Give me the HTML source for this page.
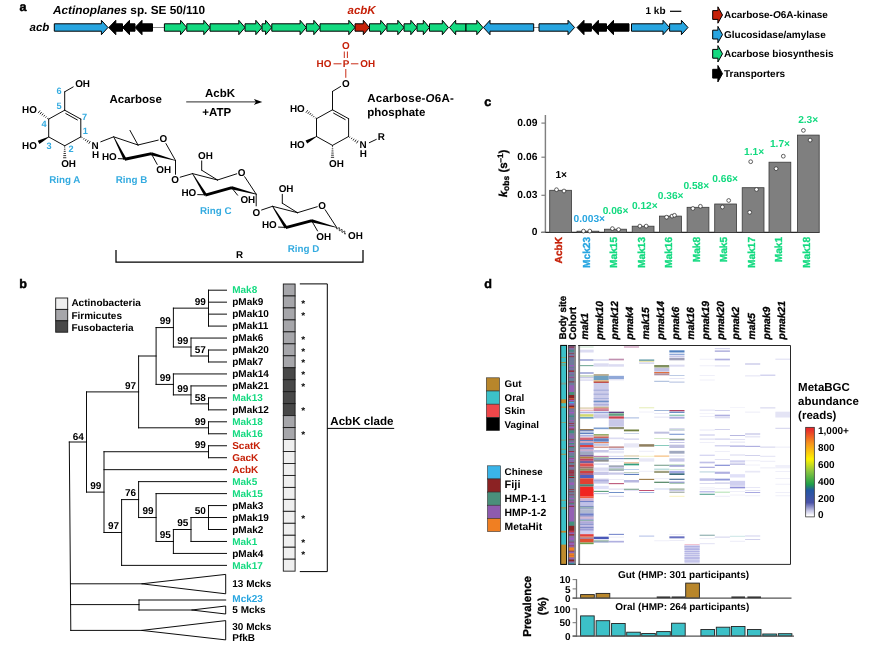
<!DOCTYPE html>
<html lang="en"><head><meta charset="utf-8"><title>AcbK figure</title>
<style>html,body{margin:0;padding:0;background:#fff}svg{display:block}text{font-family:"Liberation Sans",sans-serif;font-weight:bold;text-rendering:geometricPrecision}</style></head>
<body>
<svg width="870" height="648" viewBox="0 0 870 648">
<rect width="870" height="648" fill="#fff"/>
<g id="panel-a">
<text x="19.5" y="10.5" font-size="12.6" stroke="#000" stroke-width="0.45">a</text>
<text x="53" y="13.8" font-size="11.8"><tspan font-style="italic">Actinoplanes</tspan> sp. SE 50/110</text>
<text x="29.5" y="30.5" font-size="11.5" font-style="italic">acb</text>
<text x="347.5" y="13.8" font-size="11.5" fill="#C62109" font-style="italic">acbK</text>
<line x1="152.00" y1="27.50" x2="164.00" y2="27.50" stroke="#666" stroke-width="0.8"/>
<line x1="533.00" y1="27.50" x2="539.00" y2="27.50" stroke="#666" stroke-width="0.8"/>
<polygon points="54.30,23.80 101.40,23.80 101.40,20.30 108.00,27.50 101.40,34.70 101.40,31.20 54.30,31.20" fill="#27A5E0" stroke="#000" stroke-width="1.0" stroke-linejoin="miter"/>
<polygon points="122.50,23.80 115.80,23.80 115.80,20.30 108.80,27.50 115.80,34.70 115.80,31.20 122.50,31.20" fill="#000" stroke="#000" stroke-width="1.0" stroke-linejoin="miter"/>
<polygon points="135.00,23.80 129.50,23.80 129.50,20.30 122.50,27.50 129.50,34.70 129.50,31.20 135.00,31.20" fill="#000" stroke="#000" stroke-width="1.0" stroke-linejoin="miter"/>
<polygon points="152.50,23.80 142.00,23.80 142.00,20.30 135.00,27.50 142.00,34.70 142.00,31.20 152.50,31.20" fill="#000" stroke="#000" stroke-width="1.0" stroke-linejoin="miter"/>
<polygon points="164.40,23.80 180.60,23.80 180.60,20.30 186.80,27.50 180.60,34.70 180.60,31.20 164.40,31.20" fill="#14DA80" stroke="#000" stroke-width="1.0" stroke-linejoin="miter"/>
<polygon points="186.80,23.80 203.80,23.80 203.80,20.30 210.00,27.50 203.80,34.70 203.80,31.20 186.80,31.20" fill="#14DA80" stroke="#000" stroke-width="1.0" stroke-linejoin="miter"/>
<polygon points="210.00,23.80 238.80,23.80 238.80,20.30 245.00,27.50 238.80,34.70 238.80,31.20 210.00,31.20" fill="#14DA80" stroke="#000" stroke-width="1.0" stroke-linejoin="miter"/>
<polygon points="245.00,23.80 255.80,23.80 255.80,20.30 262.00,27.50 255.80,34.70 255.80,31.20 245.00,31.20" fill="#14DA80" stroke="#000" stroke-width="1.0" stroke-linejoin="miter"/>
<polygon points="262.00,23.80 265.60,23.80 265.60,20.30 271.80,27.50 265.60,34.70 265.60,31.20 262.00,31.20" fill="#14DA80" stroke="#000" stroke-width="1.0" stroke-linejoin="miter"/>
<polygon points="271.80,23.80 300.10,23.80 300.10,20.30 306.30,27.50 300.10,34.70 300.10,31.20 271.80,31.20" fill="#14DA80" stroke="#000" stroke-width="1.0" stroke-linejoin="miter"/>
<polygon points="306.30,23.80 313.80,23.80 313.80,20.30 320.00,27.50 313.80,34.70 313.80,31.20 306.30,31.20" fill="#14DA80" stroke="#000" stroke-width="1.0" stroke-linejoin="miter"/>
<polygon points="320.00,23.80 348.80,23.80 348.80,20.30 355.00,27.50 348.80,34.70 348.80,31.20 320.00,31.20" fill="#14DA80" stroke="#000" stroke-width="1.0" stroke-linejoin="miter"/>
<polygon points="355.00,23.80 363.30,23.80 363.30,20.30 369.50,27.50 363.30,34.70 363.30,31.20 355.00,31.20" fill="#C62109" stroke="#000" stroke-width="1.0" stroke-linejoin="miter"/>
<polygon points="369.50,23.80 380.70,23.80 380.70,20.30 386.90,27.50 380.70,34.70 380.70,31.20 369.50,31.20" fill="#14DA80" stroke="#000" stroke-width="1.0" stroke-linejoin="miter"/>
<polygon points="386.90,23.80 397.80,23.80 397.80,20.30 404.00,27.50 397.80,34.70 397.80,31.20 386.90,31.20" fill="#14DA80" stroke="#000" stroke-width="1.0" stroke-linejoin="miter"/>
<polygon points="404.00,23.80 410.80,23.80 410.80,20.30 417.00,27.50 410.80,34.70 410.80,31.20 404.00,31.20" fill="#14DA80" stroke="#000" stroke-width="1.0" stroke-linejoin="miter"/>
<polygon points="417.00,23.80 423.30,23.80 423.30,20.30 429.50,27.50 423.30,34.70 423.30,31.20 417.00,31.20" fill="#14DA80" stroke="#000" stroke-width="1.0" stroke-linejoin="miter"/>
<polygon points="429.50,23.80 442.30,23.80 442.30,20.30 448.50,27.50 442.30,34.70 442.30,31.20 429.50,31.20" fill="#14DA80" stroke="#000" stroke-width="1.0" stroke-linejoin="miter"/>
<polygon points="466.00,23.80 455.70,23.80 455.70,20.30 449.50,27.50 455.70,34.70 455.70,31.20 466.00,31.20" fill="#14DA80" stroke="#000" stroke-width="1.0" stroke-linejoin="miter"/>
<polygon points="466.00,23.80 476.80,23.80 476.80,20.30 483.00,27.50 476.80,34.70 476.80,31.20 466.00,31.20" fill="#14DA80" stroke="#000" stroke-width="1.0" stroke-linejoin="miter"/>
<polygon points="533.70,23.80 490.00,23.80 490.00,20.30 483.40,27.50 490.00,34.70 490.00,31.20 533.70,31.20" fill="#27A5E0" stroke="#000" stroke-width="1.0" stroke-linejoin="miter"/>
<polygon points="539.00,23.80 568.00,23.80 568.00,20.30 574.60,27.50 568.00,34.70 568.00,31.20 539.00,31.20" fill="#27A5E0" stroke="#000" stroke-width="1.0" stroke-linejoin="miter"/>
<polygon points="591.40,23.80 584.00,23.80 584.00,20.30 577.00,27.50 584.00,34.70 584.00,31.20 591.40,31.20" fill="#000" stroke="#000" stroke-width="1.0" stroke-linejoin="miter"/>
<polygon points="606.50,23.80 598.40,23.80 598.40,20.30 591.40,27.50 598.40,34.70 598.40,31.20 606.50,31.20" fill="#000" stroke="#000" stroke-width="1.0" stroke-linejoin="miter"/>
<polygon points="629.00,23.80 613.50,23.80 613.50,20.30 606.50,27.50 613.50,34.70 613.50,31.20 629.00,31.20" fill="#000" stroke="#000" stroke-width="1.0" stroke-linejoin="miter"/>
<polygon points="631.50,23.80 663.00,23.80 663.00,20.30 669.60,27.50 663.00,34.70 663.00,31.20 631.50,31.20" fill="#27A5E0" stroke="#000" stroke-width="1.0" stroke-linejoin="miter"/>
<polygon points="669.60,23.80 681.40,23.80 681.40,20.30 688.00,27.50 681.40,34.70 681.40,31.20 669.60,31.20" fill="#27A5E0" stroke="#000" stroke-width="1.0" stroke-linejoin="miter"/>
<text x="645.5" y="13.8" font-size="10">1 kb</text>
<line x1="670.00" y1="11.30" x2="681.30" y2="11.30" stroke="#000" stroke-width="1.2"/>
<polygon points="712.70,10.60 717.90,10.60 717.90,6.80 722.50,15.00 717.90,23.20 717.90,19.40 712.70,19.40" fill="#C62109" stroke="#000" stroke-width="1.0" stroke-linejoin="miter"/>
<text x="724" y="18.3" font-size="10">Acarbose-<tspan font-style="italic">O</tspan>6A-kinase</text>
<polygon points="712.70,30.20 717.90,30.20 717.90,26.40 722.50,34.60 717.90,42.80 717.90,39.00 712.70,39.00" fill="#27A5E0" stroke="#000" stroke-width="1.0" stroke-linejoin="miter"/>
<text x="724" y="37.9" font-size="10">Glucosidase/amylase</text>
<polygon points="712.70,49.40 717.90,49.40 717.90,45.60 722.50,53.80 717.90,62.00 717.90,58.20 712.70,58.20" fill="#14DA80" stroke="#000" stroke-width="1.0" stroke-linejoin="miter"/>
<text x="724" y="57.1" font-size="10">Acarbose biosynthesis</text>
<polygon points="712.70,69.30 717.90,69.30 717.90,65.50 722.50,73.70 717.90,81.90 717.90,78.10 712.70,78.10" fill="#000" stroke="#000" stroke-width="1.0" stroke-linejoin="miter"/>
<text x="724" y="77.0" font-size="10">Transporters</text>
<line x1="64.70" y1="110.20" x2="80.80" y2="119.10" stroke="#000" stroke-width="0.95" stroke-linecap="round"/>
<line x1="80.80" y1="119.10" x2="80.80" y2="136.90" stroke="#000" stroke-width="0.95" stroke-linecap="round"/>
<line x1="80.80" y1="136.90" x2="64.70" y2="145.80" stroke="#000" stroke-width="0.95" stroke-linecap="round"/>
<line x1="64.70" y1="145.80" x2="48.70" y2="136.90" stroke="#000" stroke-width="0.95" stroke-linecap="round"/>
<line x1="48.70" y1="136.90" x2="48.70" y2="119.10" stroke="#000" stroke-width="0.95" stroke-linecap="round"/>
<line x1="48.70" y1="119.10" x2="64.70" y2="110.20" stroke="#000" stroke-width="0.95" stroke-linecap="round"/>
<line x1="65.79" y1="113.55" x2="77.38" y2="119.95" stroke="#000" stroke-width="0.95" stroke-linecap="round"/>
<line x1="47.99" y1="117.89" x2="47.35" y2="118.75" stroke="#000" stroke-width="0.8"/>
<line x1="46.41" y1="116.41" x2="45.49" y2="117.63" stroke="#000" stroke-width="0.8"/>
<line x1="44.83" y1="114.93" x2="43.64" y2="116.51" stroke="#000" stroke-width="0.8"/>
<line x1="43.25" y1="113.46" x2="41.79" y2="115.38" stroke="#000" stroke-width="0.8"/>
<line x1="41.67" y1="111.98" x2="39.94" y2="114.26" stroke="#000" stroke-width="0.8"/>
<line x1="40.09" y1="110.50" x2="38.08" y2="113.14" stroke="#000" stroke-width="0.8"/>
<text x="36.9" y="112.7" font-size="9.9" text-anchor="end">HO</text>
<polygon points="48.56,136.64 37.74,140.82 39.46,143.98 48.84,137.16" fill="#000"/>
<text x="36.9" y="148.7" font-size="9.9" text-anchor="end">HO</text>
<line x1="64.17" y1="147.08" x2="65.23" y2="147.08" stroke="#000" stroke-width="0.8"/>
<line x1="63.95" y1="149.21" x2="65.45" y2="149.21" stroke="#000" stroke-width="0.8"/>
<line x1="63.74" y1="151.35" x2="65.66" y2="151.35" stroke="#000" stroke-width="0.8"/>
<line x1="63.52" y1="153.48" x2="65.88" y2="153.48" stroke="#000" stroke-width="0.8"/>
<line x1="63.30" y1="155.61" x2="66.10" y2="155.61" stroke="#000" stroke-width="0.8"/>
<line x1="63.09" y1="157.75" x2="66.31" y2="157.75" stroke="#000" stroke-width="0.8"/>
<text x="61.2" y="167.2" font-size="9.9">OH</text>
<line x1="81.64" y1="138.09" x2="82.24" y2="137.15" stroke="#000" stroke-width="0.8"/>
<line x1="83.40" y1="139.51" x2="84.28" y2="138.13" stroke="#000" stroke-width="0.8"/>
<line x1="85.17" y1="140.93" x2="86.31" y2="139.11" stroke="#000" stroke-width="0.8"/>
<line x1="86.93" y1="142.35" x2="88.35" y2="140.09" stroke="#000" stroke-width="0.8"/>
<line x1="88.69" y1="143.77" x2="90.39" y2="141.07" stroke="#000" stroke-width="0.8"/>
<text x="91.6" y="148.6" font-size="9.9">N</text>
<text x="92" y="157.6" font-size="9.9">H</text>
<line x1="64.70" y1="110.20" x2="64.70" y2="91.80" stroke="#000" stroke-width="0.95" stroke-linecap="round"/>
<line x1="64.70" y1="91.80" x2="73.20" y2="86.90" stroke="#000" stroke-width="0.95" stroke-linecap="round"/>
<text x="75.2" y="86.9" font-size="9.9">OH</text>
<text x="56.6" y="94.3" font-size="9.2" fill="#34ABE0">6</text>
<text x="56.6" y="108.5" font-size="9.2" fill="#34ABE0">5</text>
<text x="41.6" y="127.3" font-size="9.2" fill="#34ABE0">4</text>
<text x="46.6" y="148.5" font-size="9.2" fill="#34ABE0">3</text>
<text x="68.6" y="151.8" font-size="9.2" fill="#34ABE0">2</text>
<text x="82.8" y="134.3" font-size="9.2" fill="#34ABE0">1</text>
<text x="82" y="119.8" font-size="9.2" fill="#34ABE0">7</text>
<text x="49.2" y="182.8" font-size="9.8" fill="#34ABE0">Ring A</text>
<text x="115.8" y="182.8" font-size="9.8" fill="#34ABE0">Ring B</text>
<text x="200" y="214.3" font-size="9.8" fill="#34ABE0">Ring C</text>
<text x="287.8" y="251.8" font-size="9.8" fill="#34ABE0">Ring D</text>
<text x="109.5" y="102.7" font-size="11.5">Acarbose</text>
<line x1="100.80" y1="141.80" x2="113.70" y2="136.80" stroke="#000" stroke-width="0.95" stroke-linecap="round"/>
<line x1="113.70" y1="136.80" x2="138.00" y2="145.00" stroke="#000" stroke-width="0.95" stroke-linecap="round"/>
<line x1="138.00" y1="145.00" x2="158.24" y2="140.12" stroke="#000" stroke-width="0.95" stroke-linecap="round"/>
<line x1="165.96" y1="143.60" x2="175.50" y2="160.50" stroke="#000" stroke-width="0.95" stroke-linecap="round"/>
<polygon points="113.39,136.96 123.66,159.88 126.34,158.52 114.01,136.64" fill="#000"/>
<line x1="124.71" y1="159.26" x2="151.59" y2="153.64" stroke="#000" stroke-width="2.9"/>
<polygon points="175.59,160.16 151.71,152.26 150.89,155.14 175.41,160.84" fill="#000"/>
<text x="163.3" y="142.3" font-size="9.9" text-anchor="middle">O</text>
<line x1="138.00" y1="145.00" x2="130.00" y2="130.40" stroke="#000" stroke-width="0.95" stroke-linecap="round"/>
<line x1="118.30" y1="158.60" x2="124.50" y2="158.90" stroke="#000" stroke-width="0.95" stroke-linecap="round"/>
<text x="116.8" y="159.8" font-size="9.9" text-anchor="end">HO</text>
<line x1="151.30" y1="153.70" x2="157.20" y2="164.40" stroke="#000" stroke-width="0.95" stroke-linecap="round"/>
<text x="156.3" y="172.5" font-size="9.9">OH</text>
<line x1="175.50" y1="160.50" x2="175.50" y2="174.30" stroke="#000" stroke-width="0.95" stroke-linecap="round"/>
<text x="175.1" y="182.9" font-size="9.9" text-anchor="middle">O</text>
<line x1="180.20" y1="177.20" x2="192.50" y2="173.60" stroke="#000" stroke-width="0.95" stroke-linecap="round"/>
<line x1="192.50" y1="173.60" x2="217.50" y2="180.00" stroke="#000" stroke-width="0.95" stroke-linecap="round"/>
<line x1="217.50" y1="180.00" x2="236.75" y2="173.80" stroke="#000" stroke-width="0.95" stroke-linecap="round"/>
<line x1="244.67" y1="176.71" x2="256.20" y2="194.20" stroke="#000" stroke-width="0.95" stroke-linecap="round"/>
<polygon points="192.20,173.78 204.32,195.78 206.88,194.22 192.80,173.42" fill="#000"/>
<line x1="205.31" y1="195.08" x2="231.99" y2="187.72" stroke="#000" stroke-width="2.9"/>
<polygon points="256.29,193.86 232.08,186.35 231.32,189.25 256.11,194.54" fill="#000"/>
<text x="241.7" y="175.6" font-size="9.9" text-anchor="middle">O</text>
<line x1="217.50" y1="180.00" x2="201.70" y2="170.20" stroke="#000" stroke-width="0.95" stroke-linecap="round"/>
<line x1="201.70" y1="170.20" x2="201.70" y2="160.90" stroke="#000" stroke-width="0.95" stroke-linecap="round"/>
<text x="198.1" y="158.9" font-size="9.9">OH</text>
<line x1="197.70" y1="194.60" x2="205.10" y2="194.80" stroke="#000" stroke-width="0.95" stroke-linecap="round"/>
<text x="196.3" y="195.6" font-size="9.9" text-anchor="end">HO</text>
<line x1="231.70" y1="187.80" x2="237.60" y2="195.20" stroke="#000" stroke-width="0.95" stroke-linecap="round"/>
<text x="240.4" y="203" font-size="9.9">OH</text>
<line x1="256.20" y1="194.20" x2="256.20" y2="205.90" stroke="#000" stroke-width="0.95" stroke-linecap="round"/>
<text x="256.3" y="215.8" font-size="9.9" text-anchor="middle">O</text>
<line x1="261.60" y1="210.00" x2="272.50" y2="206.30" stroke="#000" stroke-width="0.95" stroke-linecap="round"/>
<line x1="272.50" y1="206.30" x2="297.50" y2="212.70" stroke="#000" stroke-width="0.95" stroke-linecap="round"/>
<line x1="297.50" y1="212.70" x2="317.22" y2="206.71" stroke="#000" stroke-width="0.95" stroke-linecap="round"/>
<line x1="325.14" y1="209.73" x2="336.70" y2="227.50" stroke="#000" stroke-width="0.95" stroke-linecap="round"/>
<polygon points="272.20,206.49 284.73,228.40 287.27,226.80 272.80,206.11" fill="#000"/>
<line x1="285.71" y1="227.68" x2="311.99" y2="220.72" stroke="#000" stroke-width="2.9"/>
<polygon points="336.79,227.16 312.09,219.35 311.31,222.25 336.61,227.84" fill="#000"/>
<text x="322.2" y="208.6" font-size="9.9" text-anchor="middle">O</text>
<line x1="297.50" y1="212.70" x2="282.30" y2="203.20" stroke="#000" stroke-width="0.95" stroke-linecap="round"/>
<line x1="282.30" y1="203.20" x2="282.30" y2="194.30" stroke="#000" stroke-width="0.95" stroke-linecap="round"/>
<text x="278.7" y="191.8" font-size="9.9">OH</text>
<line x1="278.50" y1="227.10" x2="285.50" y2="227.40" stroke="#000" stroke-width="0.95" stroke-linecap="round"/>
<text x="276.8" y="228.4" font-size="9.9" text-anchor="end">HO</text>
<line x1="311.70" y1="220.80" x2="317.50" y2="230.90" stroke="#000" stroke-width="0.95" stroke-linecap="round"/>
<text x="316.3" y="239.5" font-size="9.9">OH</text>
<polyline points="336.70,227.50 336.56,228.46 336.69,228.98 337.22,228.88 338.03,228.34 338.83,227.81 339.36,227.71 339.50,228.23 339.36,229.19 339.22,230.14 339.35,230.66 339.88,230.56 340.69,230.03 341.49,229.49 342.02,229.39 342.16,229.91 342.01,230.87 341.87,231.83 342.01,232.35 342.54,232.25 343.34,231.71 344.15,231.18 344.68,231.08 344.81,231.60 344.67,232.56 344.53,233.51 344.67,234.03 345.19,233.94 346.00,233.40" fill="none" stroke="#000" stroke-width="0.8"/>
<text x="348" y="239.3" font-size="9.9">OH</text>
<polyline points="116.00,250.00 116.00,262.00 363.00,262.00 363.00,250.00" fill="none" stroke="#000" stroke-width="1.25"/>
<text x="236" y="258.3" font-size="9.8">R</text>
<line x1="186.20" y1="101.90" x2="256.00" y2="101.90" stroke="#555" stroke-width="1.1"/>
<polygon points="262.30,101.90 253.90,98.90 255.90,101.90 253.90,104.90" fill="#000"/>
<text x="220" y="97.1" font-size="11.5" text-anchor="middle">AcbK</text>
<text x="216.8" y="115.5" font-size="11.5" text-anchor="middle">+ATP</text>
<line x1="332.50" y1="109.80" x2="348.60" y2="118.70" stroke="#000" stroke-width="0.95" stroke-linecap="round"/>
<line x1="348.60" y1="118.70" x2="348.60" y2="136.50" stroke="#000" stroke-width="0.95" stroke-linecap="round"/>
<line x1="348.60" y1="136.50" x2="332.50" y2="145.40" stroke="#000" stroke-width="0.95" stroke-linecap="round"/>
<line x1="332.50" y1="145.40" x2="316.50" y2="136.50" stroke="#000" stroke-width="0.95" stroke-linecap="round"/>
<line x1="316.50" y1="136.50" x2="316.50" y2="118.70" stroke="#000" stroke-width="0.95" stroke-linecap="round"/>
<line x1="316.50" y1="118.70" x2="332.50" y2="109.80" stroke="#000" stroke-width="0.95" stroke-linecap="round"/>
<line x1="333.59" y1="113.15" x2="345.18" y2="119.55" stroke="#000" stroke-width="0.95" stroke-linecap="round"/>
<line x1="315.79" y1="117.49" x2="315.15" y2="118.35" stroke="#000" stroke-width="0.8"/>
<line x1="314.21" y1="116.01" x2="313.29" y2="117.23" stroke="#000" stroke-width="0.8"/>
<line x1="312.63" y1="114.53" x2="311.44" y2="116.11" stroke="#000" stroke-width="0.8"/>
<line x1="311.05" y1="113.06" x2="309.59" y2="114.98" stroke="#000" stroke-width="0.8"/>
<line x1="309.47" y1="111.58" x2="307.74" y2="113.86" stroke="#000" stroke-width="0.8"/>
<line x1="307.89" y1="110.10" x2="305.88" y2="112.74" stroke="#000" stroke-width="0.8"/>
<text x="304.7" y="112.3" font-size="9.9" text-anchor="end">HO</text>
<polygon points="316.36,136.24 305.54,140.42 307.26,143.58 316.64,136.76" fill="#000"/>
<text x="304.7" y="148.3" font-size="9.9" text-anchor="end">HO</text>
<line x1="331.97" y1="146.68" x2="333.03" y2="146.68" stroke="#000" stroke-width="0.8"/>
<line x1="331.75" y1="148.81" x2="333.25" y2="148.81" stroke="#000" stroke-width="0.8"/>
<line x1="331.54" y1="150.95" x2="333.46" y2="150.95" stroke="#000" stroke-width="0.8"/>
<line x1="331.32" y1="153.08" x2="333.68" y2="153.08" stroke="#000" stroke-width="0.8"/>
<line x1="331.10" y1="155.21" x2="333.90" y2="155.21" stroke="#000" stroke-width="0.8"/>
<line x1="330.89" y1="157.35" x2="334.11" y2="157.35" stroke="#000" stroke-width="0.8"/>
<text x="329.0" y="166.8" font-size="9.9">OH</text>
<line x1="349.44" y1="137.69" x2="350.04" y2="136.75" stroke="#000" stroke-width="0.8"/>
<line x1="351.20" y1="139.11" x2="352.08" y2="137.73" stroke="#000" stroke-width="0.8"/>
<line x1="352.97" y1="140.53" x2="354.11" y2="138.71" stroke="#000" stroke-width="0.8"/>
<line x1="354.73" y1="141.95" x2="356.15" y2="139.69" stroke="#000" stroke-width="0.8"/>
<line x1="356.49" y1="143.37" x2="358.19" y2="140.67" stroke="#000" stroke-width="0.8"/>
<text x="359.4" y="148.2" font-size="9.9">N</text>
<text x="359.8" y="157.2" font-size="9.9">H</text>
<line x1="332.50" y1="109.80" x2="332.50" y2="91.40" stroke="#000" stroke-width="0.95" stroke-linecap="round"/>
<line x1="332.50" y1="91.40" x2="340.60" y2="86.50" stroke="#000" stroke-width="0.95" stroke-linecap="round"/>
<text x="345.8" y="86.9" font-size="9.9" text-anchor="middle">O</text>
<line x1="345.80" y1="77.40" x2="345.80" y2="69.40" stroke="#C62109" stroke-width="0.95" stroke-linecap="round"/>
<text x="346.1" y="67.1" font-size="9.9" fill="#C62109" text-anchor="middle">P</text>
<text x="331.4" y="67.1" font-size="9.9" fill="#C62109" text-anchor="end">HO</text>
<text x="360.3" y="67.1" font-size="9.9" fill="#C62109">OH</text>
<line x1="333.90" y1="63.80" x2="341.10" y2="63.80" stroke="#C62109" stroke-width="0.95" stroke-linecap="round"/>
<line x1="351.30" y1="63.80" x2="358.00" y2="63.80" stroke="#C62109" stroke-width="0.95" stroke-linecap="round"/>
<line x1="344.30" y1="51.90" x2="344.30" y2="57.60" stroke="#C62109" stroke-width="0.95" stroke-linecap="round"/>
<line x1="347.40" y1="51.90" x2="347.40" y2="57.60" stroke="#C62109" stroke-width="0.95" stroke-linecap="round"/>
<text x="345.8" y="49.4" font-size="9.9" fill="#C62109" text-anchor="middle">O</text>
<line x1="369.30" y1="142.70" x2="376.30" y2="139.40" stroke="#000" stroke-width="0.95" stroke-linecap="round"/>
<text x="377.8" y="140.2" font-size="9.9">R</text>
<text x="367.2" y="102.4" font-size="11.5" textLength="86.6">Acarbose-<tspan font-style="italic">O</tspan>6A-</text>
<text x="367.2" y="116.4" font-size="11.5">phosphate</text>
</g>
<g id="panel-b">
<text x="19.3" y="287.5" font-size="12.6" stroke="#000" stroke-width="0.45">b</text>
<rect x="55.70" y="298.00" width="12.00" height="11.40" fill="#EFEFEF" stroke="#1a1a1a" stroke-width="0.9"/>
<text x="71.4" y="306.2" font-size="10">Actinobacteria</text>
<rect x="55.70" y="309.40" width="12.00" height="11.40" fill="#A6A6AA" stroke="#1a1a1a" stroke-width="0.9"/>
<text x="71.4" y="318.7" font-size="10">Firmicutes</text>
<rect x="55.70" y="320.80" width="12.00" height="11.40" fill="#484848" stroke="#1a1a1a" stroke-width="0.9"/>
<text x="71.4" y="331.2" font-size="10">Fusobacteria</text>
<text x="232.2" y="293.3" font-size="10" fill="#14DA80">Mak8</text>
<rect x="283.30" y="284.00" width="11.80" height="11.96" fill="#A6A6AA" stroke="#1a1a1a" stroke-width="0.9"/>
<text x="232.2" y="305.26" font-size="10">pMak9</text>
<rect x="283.30" y="295.96" width="11.80" height="11.96" fill="#A6A6AA" stroke="#1a1a1a" stroke-width="0.9"/>
<text x="303.2" y="306.66" font-size="10" text-anchor="middle">*</text>
<text x="232.2" y="317.23" font-size="10">pMak10</text>
<rect x="283.30" y="307.93" width="11.80" height="11.96" fill="#A6A6AA" stroke="#1a1a1a" stroke-width="0.9"/>
<text x="303.2" y="318.63" font-size="10" text-anchor="middle">*</text>
<text x="232.2" y="329.19" font-size="10">pMak11</text>
<rect x="283.30" y="319.89" width="11.80" height="11.96" fill="#A6A6AA" stroke="#1a1a1a" stroke-width="0.9"/>
<text x="232.2" y="341.16" font-size="10">pMak6</text>
<rect x="283.30" y="331.86" width="11.80" height="11.96" fill="#A6A6AA" stroke="#1a1a1a" stroke-width="0.9"/>
<text x="303.2" y="342.56" font-size="10" text-anchor="middle">*</text>
<text x="232.2" y="353.12" font-size="10">pMak20</text>
<rect x="283.30" y="343.82" width="11.80" height="11.96" fill="#A6A6AA" stroke="#1a1a1a" stroke-width="0.9"/>
<text x="303.2" y="354.52" font-size="10" text-anchor="middle">*</text>
<text x="232.2" y="365.09" font-size="10">pMak7</text>
<rect x="283.30" y="355.79" width="11.80" height="11.96" fill="#A6A6AA" stroke="#1a1a1a" stroke-width="0.9"/>
<text x="303.2" y="366.49" font-size="10" text-anchor="middle">*</text>
<text x="232.2" y="377.06" font-size="10">pMak14</text>
<rect x="283.30" y="367.75" width="11.80" height="11.96" fill="#484848" stroke="#1a1a1a" stroke-width="0.9"/>
<text x="303.2" y="378.45" font-size="10" text-anchor="middle">*</text>
<text x="232.2" y="389.02" font-size="10">pMak21</text>
<rect x="283.30" y="379.72" width="11.80" height="11.96" fill="#484848" stroke="#1a1a1a" stroke-width="0.9"/>
<text x="303.2" y="390.42" font-size="10" text-anchor="middle">*</text>
<text x="232.2" y="400.99" font-size="10" fill="#14DA80">Mak13</text>
<rect x="283.30" y="391.69" width="11.80" height="11.96" fill="#484848" stroke="#1a1a1a" stroke-width="0.9"/>
<text x="232.2" y="412.95" font-size="10">pMak12</text>
<rect x="283.30" y="403.65" width="11.80" height="11.96" fill="#484848" stroke="#1a1a1a" stroke-width="0.9"/>
<text x="303.2" y="414.35" font-size="10" text-anchor="middle">*</text>
<text x="232.2" y="424.92" font-size="10" fill="#14DA80">Mak18</text>
<rect x="283.30" y="415.62" width="11.80" height="11.96" fill="#A6A6AA" stroke="#1a1a1a" stroke-width="0.9"/>
<text x="232.2" y="436.88" font-size="10" fill="#14DA80">Mak16</text>
<rect x="283.30" y="427.58" width="11.80" height="11.96" fill="#A6A6AA" stroke="#1a1a1a" stroke-width="0.9"/>
<text x="303.2" y="438.28" font-size="10" text-anchor="middle">*</text>
<text x="232.2" y="448.85" font-size="10" fill="#C62109">ScatK</text>
<rect x="283.30" y="439.55" width="11.80" height="11.96" fill="#EFEFEF" stroke="#1a1a1a" stroke-width="0.9"/>
<text x="232.2" y="460.81" font-size="10" fill="#C62109">GacK</text>
<rect x="283.30" y="451.51" width="11.80" height="11.96" fill="#EFEFEF" stroke="#1a1a1a" stroke-width="0.9"/>
<text x="232.2" y="472.77" font-size="10" fill="#C62109">AcbK</text>
<rect x="283.30" y="463.47" width="11.80" height="11.96" fill="#EFEFEF" stroke="#1a1a1a" stroke-width="0.9"/>
<text x="232.2" y="484.74" font-size="10" fill="#14DA80">Mak5</text>
<rect x="283.30" y="475.44" width="11.80" height="11.96" fill="#EFEFEF" stroke="#1a1a1a" stroke-width="0.9"/>
<text x="232.2" y="496.71" font-size="10" fill="#14DA80">Mak15</text>
<rect x="283.30" y="487.41" width="11.80" height="11.96" fill="#EFEFEF" stroke="#1a1a1a" stroke-width="0.9"/>
<text x="232.2" y="508.67" font-size="10">pMak3</text>
<rect x="283.30" y="499.37" width="11.80" height="11.96" fill="#EFEFEF" stroke="#1a1a1a" stroke-width="0.9"/>
<text x="232.2" y="520.63" font-size="10">pMak19</text>
<rect x="283.30" y="511.33" width="11.80" height="11.96" fill="#EFEFEF" stroke="#1a1a1a" stroke-width="0.9"/>
<text x="303.2" y="522.03" font-size="10" text-anchor="middle">*</text>
<text x="232.2" y="532.6" font-size="10">pMak2</text>
<rect x="283.30" y="523.30" width="11.80" height="11.96" fill="#EFEFEF" stroke="#1a1a1a" stroke-width="0.9"/>
<text x="232.2" y="544.56" font-size="10" fill="#14DA80">Mak1</text>
<rect x="283.30" y="535.26" width="11.80" height="11.96" fill="#EFEFEF" stroke="#1a1a1a" stroke-width="0.9"/>
<text x="303.2" y="545.96" font-size="10" text-anchor="middle">*</text>
<text x="232.2" y="556.53" font-size="10">pMak4</text>
<rect x="283.30" y="547.23" width="11.80" height="11.96" fill="#EFEFEF" stroke="#1a1a1a" stroke-width="0.9"/>
<text x="303.2" y="557.93" font-size="10" text-anchor="middle">*</text>
<text x="232.2" y="568.5" font-size="10" fill="#14DA80">Mak17</text>
<rect x="283.30" y="559.19" width="11.80" height="11.96" fill="#EFEFEF" stroke="#1a1a1a" stroke-width="0.9"/>
<line x1="208.50" y1="290.20" x2="226.50" y2="290.20" stroke="#000" stroke-width="0.95" stroke-linecap="square"/>
<line x1="208.50" y1="302.16" x2="226.50" y2="302.16" stroke="#000" stroke-width="0.95" stroke-linecap="square"/>
<line x1="208.50" y1="314.13" x2="226.50" y2="314.13" stroke="#000" stroke-width="0.95" stroke-linecap="square"/>
<line x1="208.50" y1="326.09" x2="226.50" y2="326.09" stroke="#000" stroke-width="0.95" stroke-linecap="square"/>
<line x1="191.00" y1="338.06" x2="226.50" y2="338.06" stroke="#000" stroke-width="0.95" stroke-linecap="square"/>
<line x1="208.50" y1="350.02" x2="226.50" y2="350.02" stroke="#000" stroke-width="0.95" stroke-linecap="square"/>
<line x1="208.50" y1="361.99" x2="226.50" y2="361.99" stroke="#000" stroke-width="0.95" stroke-linecap="square"/>
<line x1="173.40" y1="373.95" x2="226.50" y2="373.95" stroke="#000" stroke-width="0.95" stroke-linecap="square"/>
<line x1="191.00" y1="385.92" x2="226.50" y2="385.92" stroke="#000" stroke-width="0.95" stroke-linecap="square"/>
<line x1="208.50" y1="397.88" x2="226.50" y2="397.88" stroke="#000" stroke-width="0.95" stroke-linecap="square"/>
<line x1="208.50" y1="409.85" x2="226.50" y2="409.85" stroke="#000" stroke-width="0.95" stroke-linecap="square"/>
<line x1="208.50" y1="421.81" x2="226.50" y2="421.81" stroke="#000" stroke-width="0.95" stroke-linecap="square"/>
<line x1="208.50" y1="433.78" x2="226.50" y2="433.78" stroke="#000" stroke-width="0.95" stroke-linecap="square"/>
<line x1="208.50" y1="445.75" x2="226.50" y2="445.75" stroke="#000" stroke-width="0.95" stroke-linecap="square"/>
<line x1="208.50" y1="457.71" x2="226.50" y2="457.71" stroke="#000" stroke-width="0.95" stroke-linecap="square"/>
<line x1="104.00" y1="469.67" x2="226.50" y2="469.67" stroke="#000" stroke-width="0.95" stroke-linecap="square"/>
<line x1="138.60" y1="481.64" x2="226.50" y2="481.64" stroke="#000" stroke-width="0.95" stroke-linecap="square"/>
<line x1="156.10" y1="493.61" x2="226.50" y2="493.61" stroke="#000" stroke-width="0.95" stroke-linecap="square"/>
<line x1="208.50" y1="505.57" x2="226.50" y2="505.57" stroke="#000" stroke-width="0.95" stroke-linecap="square"/>
<line x1="208.50" y1="517.53" x2="226.50" y2="517.53" stroke="#000" stroke-width="0.95" stroke-linecap="square"/>
<line x1="208.50" y1="529.50" x2="226.50" y2="529.50" stroke="#000" stroke-width="0.95" stroke-linecap="square"/>
<line x1="191.00" y1="541.46" x2="226.50" y2="541.46" stroke="#000" stroke-width="0.95" stroke-linecap="square"/>
<line x1="173.40" y1="553.43" x2="226.50" y2="553.43" stroke="#000" stroke-width="0.95" stroke-linecap="square"/>
<line x1="121.60" y1="565.39" x2="226.50" y2="565.39" stroke="#000" stroke-width="0.95" stroke-linecap="square"/>
<line x1="208.50" y1="290.20" x2="208.50" y2="326.09" stroke="#000" stroke-width="0.95" stroke-linecap="square"/>
<line x1="173.40" y1="308.15" x2="208.50" y2="308.15" stroke="#000" stroke-width="0.95" stroke-linecap="square"/>
<text x="205.9" y="304.85" font-size="10" text-anchor="end">99</text>
<line x1="208.50" y1="350.02" x2="208.50" y2="361.99" stroke="#000" stroke-width="0.95" stroke-linecap="square"/>
<line x1="191.00" y1="356.01" x2="208.50" y2="356.01" stroke="#000" stroke-width="0.95" stroke-linecap="square"/>
<text x="205.9" y="352.71" font-size="10" text-anchor="end">57</text>
<line x1="191.00" y1="338.06" x2="191.00" y2="356.01" stroke="#000" stroke-width="0.95" stroke-linecap="square"/>
<line x1="173.40" y1="347.03" x2="191.00" y2="347.03" stroke="#000" stroke-width="0.95" stroke-linecap="square"/>
<text x="188.4" y="343.73" font-size="10" text-anchor="end">99</text>
<line x1="173.40" y1="308.15" x2="173.40" y2="347.03" stroke="#000" stroke-width="0.95" stroke-linecap="square"/>
<line x1="156.10" y1="327.59" x2="173.40" y2="327.59" stroke="#000" stroke-width="0.95" stroke-linecap="square"/>
<text x="170.8" y="324.29" font-size="10" text-anchor="end">99</text>
<line x1="208.50" y1="397.88" x2="208.50" y2="409.85" stroke="#000" stroke-width="0.95" stroke-linecap="square"/>
<line x1="191.00" y1="403.87" x2="208.50" y2="403.87" stroke="#000" stroke-width="0.95" stroke-linecap="square"/>
<text x="205.9" y="400.57" font-size="10" text-anchor="end">58</text>
<line x1="191.00" y1="385.92" x2="191.00" y2="403.87" stroke="#000" stroke-width="0.95" stroke-linecap="square"/>
<line x1="173.40" y1="394.89" x2="191.00" y2="394.89" stroke="#000" stroke-width="0.95" stroke-linecap="square"/>
<text x="188.4" y="391.59" font-size="10" text-anchor="end">99</text>
<line x1="173.40" y1="373.95" x2="173.40" y2="394.89" stroke="#000" stroke-width="0.95" stroke-linecap="square"/>
<line x1="156.10" y1="384.42" x2="173.40" y2="384.42" stroke="#000" stroke-width="0.95" stroke-linecap="square"/>
<text x="170.8" y="381.12" font-size="10" text-anchor="end">99</text>
<line x1="156.10" y1="327.59" x2="156.10" y2="384.42" stroke="#000" stroke-width="0.95" stroke-linecap="square"/>
<line x1="138.60" y1="356.01" x2="156.10" y2="356.01" stroke="#000" stroke-width="0.95" stroke-linecap="square"/>
<line x1="208.50" y1="421.81" x2="208.50" y2="433.78" stroke="#000" stroke-width="0.95" stroke-linecap="square"/>
<line x1="138.60" y1="427.80" x2="208.50" y2="427.80" stroke="#000" stroke-width="0.95" stroke-linecap="square"/>
<text x="205.9" y="424.5" font-size="10" text-anchor="end">99</text>
<line x1="138.60" y1="356.01" x2="138.60" y2="427.80" stroke="#000" stroke-width="0.95" stroke-linecap="square"/>
<line x1="86.50" y1="391.90" x2="138.60" y2="391.90" stroke="#000" stroke-width="0.95" stroke-linecap="square"/>
<text x="136.0" y="388.6" font-size="10" text-anchor="end">97</text>
<line x1="208.50" y1="445.75" x2="208.50" y2="457.71" stroke="#000" stroke-width="0.95" stroke-linecap="square"/>
<line x1="104.00" y1="451.73" x2="208.50" y2="451.73" stroke="#000" stroke-width="0.95" stroke-linecap="square"/>
<text x="205.9" y="448.43" font-size="10" text-anchor="end">99</text>
<line x1="208.50" y1="505.57" x2="208.50" y2="529.50" stroke="#000" stroke-width="0.95" stroke-linecap="square"/>
<line x1="191.00" y1="517.53" x2="208.50" y2="517.53" stroke="#000" stroke-width="0.95" stroke-linecap="square"/>
<text x="205.9" y="514.24" font-size="10" text-anchor="end">50</text>
<line x1="191.00" y1="517.53" x2="191.00" y2="541.46" stroke="#000" stroke-width="0.95" stroke-linecap="square"/>
<line x1="173.40" y1="529.50" x2="191.00" y2="529.50" stroke="#000" stroke-width="0.95" stroke-linecap="square"/>
<text x="188.4" y="526.2" font-size="10" text-anchor="end">95</text>
<line x1="173.40" y1="529.50" x2="173.40" y2="553.43" stroke="#000" stroke-width="0.95" stroke-linecap="square"/>
<line x1="156.10" y1="541.47" x2="173.40" y2="541.47" stroke="#000" stroke-width="0.95" stroke-linecap="square"/>
<text x="170.8" y="538.17" font-size="10" text-anchor="end">95</text>
<line x1="156.10" y1="493.61" x2="156.10" y2="541.47" stroke="#000" stroke-width="0.95" stroke-linecap="square"/>
<line x1="138.60" y1="517.54" x2="156.10" y2="517.54" stroke="#000" stroke-width="0.95" stroke-linecap="square"/>
<text x="153.5" y="514.24" font-size="10" text-anchor="end">99</text>
<line x1="138.60" y1="481.64" x2="138.60" y2="517.54" stroke="#000" stroke-width="0.95" stroke-linecap="square"/>
<line x1="121.60" y1="499.59" x2="138.60" y2="499.59" stroke="#000" stroke-width="0.95" stroke-linecap="square"/>
<text x="136.0" y="496.29" font-size="10" text-anchor="end">76</text>
<line x1="121.60" y1="499.59" x2="121.60" y2="565.39" stroke="#000" stroke-width="0.95" stroke-linecap="square"/>
<line x1="104.00" y1="532.49" x2="121.60" y2="532.49" stroke="#000" stroke-width="0.95" stroke-linecap="square"/>
<text x="119.0" y="529.19" font-size="10" text-anchor="end">97</text>
<line x1="104.00" y1="451.73" x2="104.00" y2="532.49" stroke="#000" stroke-width="0.95" stroke-linecap="square"/>
<line x1="86.50" y1="492.11" x2="104.00" y2="492.11" stroke="#000" stroke-width="0.95" stroke-linecap="square"/>
<text x="101.4" y="488.81" font-size="10" text-anchor="end">99</text>
<line x1="86.50" y1="391.90" x2="86.50" y2="492.11" stroke="#000" stroke-width="0.95" stroke-linecap="square"/>
<line x1="69.30" y1="442.01" x2="86.50" y2="442.01" stroke="#000" stroke-width="0.95" stroke-linecap="square"/>
<text x="83.9" y="439.51" font-size="10" text-anchor="end">64</text>
<line x1="69.30" y1="442.01" x2="70.80" y2="630.40" stroke="#000" stroke-width="0.95" stroke-linecap="square"/>
<line x1="70.50" y1="583.80" x2="141.70" y2="583.80" stroke="#000" stroke-width="0.95" stroke-linecap="square"/>
<polygon points="141.7,583.8 225.7,574.4 225.7,593.8" fill="#fff" stroke="#000" stroke-width="0.95"/>
<line x1="70.60" y1="604.60" x2="139.00" y2="604.60" stroke="#000" stroke-width="0.95" stroke-linecap="square"/>
<line x1="139.00" y1="600.00" x2="139.00" y2="610.00" stroke="#000" stroke-width="0.95" stroke-linecap="square"/>
<line x1="139.00" y1="600.00" x2="225.70" y2="600.00" stroke="#000" stroke-width="0.95" stroke-linecap="square"/>
<line x1="139.00" y1="610.00" x2="191.70" y2="610.00" stroke="#000" stroke-width="0.95" stroke-linecap="square"/>
<polygon points="191.7,610 225.7,606 225.7,614" fill="#fff" stroke="#000" stroke-width="0.95"/>
<line x1="70.80" y1="630.40" x2="141.70" y2="630.40" stroke="#000" stroke-width="0.95" stroke-linecap="square"/>
<polygon points="141.7,630.4 225.7,620.6 225.7,639.9" fill="#fff" stroke="#000" stroke-width="0.95"/>
<text x="232.3" y="587.4" font-size="10">13 Mcks</text>
<text x="232.3" y="601.8" font-size="10" fill="#27A5E0">Mck23</text>
<text x="232.3" y="613.4" font-size="10">5 Mcks</text>
<text x="232.3" y="629.6" font-size="10">30 Mcks</text>
<text x="232.3" y="641.2" font-size="10">PfkB</text>
<polyline points="299.80,283.90 327.30,283.90 327.30,571.60 299.80,571.60" fill="none" stroke="#000" stroke-width="1.0"/>
<line x1="327.30" y1="428.40" x2="394.20" y2="428.40" stroke="#000" stroke-width="1.0"/>
<text x="330.3" y="425" font-size="11.6">AcbK clade</text>
</g>
<g id="panel-c">
<text x="484.3" y="105.5" font-size="12.6" stroke="#000" stroke-width="0.45">c</text>
<line x1="545.40" y1="115.00" x2="545.40" y2="232.90" stroke="#808080" stroke-width="1.45"/>
<line x1="541.40" y1="232.40" x2="819.40" y2="232.40" stroke="#2a2a2a" stroke-width="1.25"/>
<line x1="541.40" y1="123.10" x2="545.40" y2="123.10" stroke="#808080" stroke-width="1.2"/>
<text x="537.4" y="126.0" font-size="10.3" text-anchor="end">0.09</text>
<line x1="541.40" y1="157.20" x2="545.40" y2="157.20" stroke="#808080" stroke-width="1.2"/>
<text x="537.4" y="160.1" font-size="10.3" text-anchor="end">0.06</text>
<line x1="541.40" y1="195.30" x2="545.40" y2="195.30" stroke="#808080" stroke-width="1.2"/>
<text x="537.4" y="198.2" font-size="10.3" text-anchor="end">0.03</text>
<line x1="541.40" y1="232.40" x2="545.40" y2="232.40" stroke="#808080" stroke-width="1.2"/>
<text x="537.4" y="235.3" font-size="10.3" text-anchor="end">0</text>
<text transform="translate(506.8 173.5) rotate(-90)" font-size="11.5" text-anchor="middle" stroke="#000" stroke-width="0.3"><tspan font-style="italic">k</tspan><tspan font-size="8.5" dy="2.2">obs</tspan><tspan dy="-2.2"> (s</tspan><tspan font-size="8" dy="-3.6">–1</tspan><tspan dy="3.6">)</tspan></text>
<rect x="549.70" y="190.30" width="21.80" height="42.10" fill="#7F7F7F" stroke="#3A3A3A" stroke-width="0.8"/>
<circle cx="556.5" cy="189.7" r="1.9" fill="#fff" stroke="#222" stroke-width="0.7"/>
<circle cx="564" cy="191" r="1.9" fill="#fff" stroke="#222" stroke-width="0.7"/>
<text x="561.2" y="177.9" font-size="10.2" text-anchor="middle">1×</text>
<text x="562.5" y="236.8" font-size="10.2" fill="#C62109" text-anchor="end" transform="rotate(-90 562.5 236.8)" stroke="#C62109" stroke-width="0.3">AcbK</text>
<rect x="577.00" y="231.20" width="21.80" height="1.20" fill="#7F7F7F" stroke="#3A3A3A" stroke-width="0.8"/>
<circle cx="583.5" cy="231.1" r="1.9" fill="#fff" stroke="#222" stroke-width="0.7"/>
<circle cx="589.8" cy="231.1" r="1.9" fill="#fff" stroke="#222" stroke-width="0.7"/>
<text x="589.3" y="222.3" font-size="10.2" fill="#27A5E0" text-anchor="middle">0.003×</text>
<text x="589.8" y="236.8" font-size="10.2" fill="#27A5E0" text-anchor="end" transform="rotate(-90 589.8 236.8)" stroke="#27A5E0" stroke-width="0.3">Mck23</text>
<rect x="604.60" y="229.20" width="21.80" height="3.20" fill="#7F7F7F" stroke="#3A3A3A" stroke-width="0.8"/>
<circle cx="612.4" cy="228.6" r="1.9" fill="#fff" stroke="#222" stroke-width="0.7"/>
<circle cx="618.6" cy="229.6" r="1.9" fill="#fff" stroke="#222" stroke-width="0.7"/>
<text x="615.6" y="214.0" font-size="10.2" fill="#14DA80" text-anchor="middle">0.06×</text>
<text x="617.4" y="236.8" font-size="10.2" fill="#14DA80" text-anchor="end" transform="rotate(-90 617.4 236.8)" stroke="#14DA80" stroke-width="0.3">Mak15</text>
<rect x="632.20" y="226.20" width="21.80" height="6.20" fill="#7F7F7F" stroke="#3A3A3A" stroke-width="0.8"/>
<circle cx="639.9" cy="226.1" r="1.9" fill="#fff" stroke="#222" stroke-width="0.7"/>
<circle cx="646.2" cy="226.1" r="1.9" fill="#fff" stroke="#222" stroke-width="0.7"/>
<text x="644.8" y="209.0" font-size="10.2" fill="#14DA80" text-anchor="middle">0.12×</text>
<text x="645.0" y="236.8" font-size="10.2" fill="#14DA80" text-anchor="end" transform="rotate(-90 645.0 236.8)" stroke="#14DA80" stroke-width="0.3">Mak13</text>
<rect x="659.60" y="216.10" width="21.80" height="16.30" fill="#7F7F7F" stroke="#3A3A3A" stroke-width="0.8"/>
<circle cx="666.6" cy="217.2" r="1.9" fill="#fff" stroke="#222" stroke-width="0.7"/>
<circle cx="672" cy="216.1" r="1.9" fill="#fff" stroke="#222" stroke-width="0.7"/>
<circle cx="674.5" cy="215.3" r="1.9" fill="#fff" stroke="#222" stroke-width="0.7"/>
<text x="670.7" y="198.7" font-size="10.2" fill="#14DA80" text-anchor="middle">0.36×</text>
<text x="672.4" y="236.8" font-size="10.2" fill="#14DA80" text-anchor="end" transform="rotate(-90 672.4 236.8)" stroke="#14DA80" stroke-width="0.3">Mak16</text>
<rect x="687.10" y="207.30" width="21.80" height="25.10" fill="#7F7F7F" stroke="#3A3A3A" stroke-width="0.8"/>
<circle cx="692.9" cy="208.5" r="1.9" fill="#fff" stroke="#222" stroke-width="0.7"/>
<circle cx="700.4" cy="206.3" r="1.9" fill="#fff" stroke="#222" stroke-width="0.7"/>
<text x="696.3" y="188.9" font-size="10.2" fill="#14DA80" text-anchor="middle">0.58×</text>
<text x="699.9" y="236.8" font-size="10.2" fill="#14DA80" text-anchor="end" transform="rotate(-90 699.9 236.8)" stroke="#14DA80" stroke-width="0.3">Mak8</text>
<rect x="714.70" y="204.00" width="21.80" height="28.40" fill="#7F7F7F" stroke="#3A3A3A" stroke-width="0.8"/>
<circle cx="722.4" cy="207" r="1.9" fill="#fff" stroke="#222" stroke-width="0.7"/>
<circle cx="728.7" cy="200.5" r="1.9" fill="#fff" stroke="#222" stroke-width="0.7"/>
<text x="725.2" y="182.2" font-size="10.2" fill="#14DA80" text-anchor="middle">0.66×</text>
<text x="727.5" y="236.8" font-size="10.2" fill="#14DA80" text-anchor="end" transform="rotate(-90 727.5 236.8)" stroke="#14DA80" stroke-width="0.3">Mak5</text>
<rect x="742.20" y="187.70" width="21.80" height="44.70" fill="#7F7F7F" stroke="#3A3A3A" stroke-width="0.8"/>
<circle cx="750.7" cy="161.7" r="1.9" fill="#fff" stroke="#222" stroke-width="0.7"/>
<circle cx="756.5" cy="189.5" r="1.9" fill="#fff" stroke="#222" stroke-width="0.7"/>
<circle cx="749.7" cy="212.3" r="1.9" fill="#fff" stroke="#222" stroke-width="0.7"/>
<text x="754.1" y="155.4" font-size="10.2" fill="#14DA80" text-anchor="middle">1.1×</text>
<text x="755.0" y="236.8" font-size="10.2" fill="#14DA80" text-anchor="end" transform="rotate(-90 755.0 236.8)" stroke="#14DA80" stroke-width="0.3">Mak17</text>
<rect x="769.00" y="162.20" width="21.80" height="70.20" fill="#7F7F7F" stroke="#3A3A3A" stroke-width="0.8"/>
<circle cx="776.1" cy="168.7" r="1.9" fill="#fff" stroke="#222" stroke-width="0.7"/>
<circle cx="783.3" cy="156.2" r="1.9" fill="#fff" stroke="#222" stroke-width="0.7"/>
<text x="780" y="147.1" font-size="10.2" fill="#14DA80" text-anchor="middle">1.7×</text>
<text x="781.8" y="236.8" font-size="10.2" fill="#14DA80" text-anchor="end" transform="rotate(-90 781.8 236.8)" stroke="#14DA80" stroke-width="0.3">Mak1</text>
<rect x="797.40" y="135.10" width="21.80" height="97.30" fill="#7F7F7F" stroke="#3A3A3A" stroke-width="0.8"/>
<circle cx="803.4" cy="130.4" r="1.9" fill="#fff" stroke="#222" stroke-width="0.7"/>
<circle cx="810.1" cy="140.1" r="1.9" fill="#fff" stroke="#222" stroke-width="0.7"/>
<text x="808.2" y="122.8" font-size="10.2" fill="#14DA80" text-anchor="middle">2.3×</text>
<text x="810.2" y="236.8" font-size="10.2" fill="#14DA80" text-anchor="end" transform="rotate(-90 810.1999999999999 236.8)" stroke="#14DA80" stroke-width="0.3">Mak18</text>
</g>
<g id="panel-d">
<text x="484.3" y="287.5" font-size="12.6" stroke="#000" stroke-width="0.45">d</text>
<rect x="486.30" y="377.80" width="13.30" height="13.20" fill="#B8862B" stroke="#333" stroke-width="0.6"/>
<text x="504.6" y="386.6" font-size="9.8">Gut</text>
<rect x="486.30" y="391.00" width="13.30" height="13.20" fill="#3CC1C8" stroke="#333" stroke-width="0.6"/>
<text x="504.6" y="400.5" font-size="9.8">Oral</text>
<rect x="486.30" y="404.20" width="13.30" height="13.20" fill="#EE474A" stroke="#333" stroke-width="0.6"/>
<text x="504.6" y="414.4" font-size="9.8">Skin</text>
<rect x="486.30" y="417.40" width="13.30" height="13.20" fill="#000" stroke="#333" stroke-width="0.6"/>
<text x="504.6" y="428.3" font-size="9.8">Vaginal</text>
<rect x="487.50" y="465.80" width="13.10" height="13.15" fill="#3AB4E8" stroke="#333" stroke-width="0.6"/>
<text x="504.6" y="474.5" font-size="9.8">Chinese</text>
<rect x="487.50" y="478.95" width="13.10" height="13.15" fill="#8B2223" stroke="#333" stroke-width="0.6"/>
<text x="504.6" y="488.2" font-size="11">Fiji</text>
<rect x="487.50" y="492.10" width="13.10" height="13.15" fill="#4A8F7B" stroke="#333" stroke-width="0.6"/>
<text x="504.6" y="502.04" font-size="10.4">HMP-1-1</text>
<rect x="487.50" y="505.25" width="13.10" height="13.15" fill="#8E5BAE" stroke="#333" stroke-width="0.6"/>
<text x="504.6" y="515.81" font-size="10.4">HMP-1-2</text>
<rect x="487.50" y="518.40" width="13.10" height="13.15" fill="#F07F22" stroke="#333" stroke-width="0.6"/>
<text x="504.6" y="529.58" font-size="10.4">MetaHit</text>
<text x="588.1" y="339.4" font-size="10.3" font-style="italic" transform="rotate(-90 588.1 339.4)" stroke="#000" stroke-width="0.3">mak1</text>
<text x="603.2" y="339.4" font-size="10.3" font-style="italic" transform="rotate(-90 603.2 339.4)" stroke="#000" stroke-width="0.3">pmak10</text>
<text x="618.4" y="339.4" font-size="10.3" font-style="italic" transform="rotate(-90 618.4 339.4)" stroke="#000" stroke-width="0.3">pmak12</text>
<text x="633.5" y="339.4" font-size="10.3" font-style="italic" transform="rotate(-90 633.5 339.4)" stroke="#000" stroke-width="0.3">pmak4</text>
<text x="648.6" y="339.4" font-size="10.3" font-style="italic" transform="rotate(-90 648.6 339.4)" stroke="#000" stroke-width="0.3">mak15</text>
<text x="663.8" y="339.4" font-size="10.3" font-style="italic" transform="rotate(-90 663.8 339.4)" stroke="#000" stroke-width="0.3">pmak14</text>
<text x="678.9" y="339.4" font-size="10.3" font-style="italic" transform="rotate(-90 678.9 339.4)" stroke="#000" stroke-width="0.3">pmak6</text>
<text x="694.1" y="339.4" font-size="10.3" font-style="italic" transform="rotate(-90 694.1 339.4)" stroke="#000" stroke-width="0.3">mak16</text>
<text x="709.2" y="339.4" font-size="10.3" font-style="italic" transform="rotate(-90 709.2 339.4)" stroke="#000" stroke-width="0.3">pmak19</text>
<text x="724.4" y="339.4" font-size="10.3" font-style="italic" transform="rotate(-90 724.4 339.4)" stroke="#000" stroke-width="0.3">pmak20</text>
<text x="739.5" y="339.4" font-size="10.3" font-style="italic" transform="rotate(-90 739.5 339.4)" stroke="#000" stroke-width="0.3">pmak2</text>
<text x="754.6" y="339.4" font-size="10.3" font-style="italic" transform="rotate(-90 754.6 339.4)" stroke="#000" stroke-width="0.3">mak5</text>
<text x="769.8" y="339.4" font-size="10.3" font-style="italic" transform="rotate(-90 769.8 339.4)" stroke="#000" stroke-width="0.3">pmak9</text>
<text x="784.9" y="339.4" font-size="10.3" font-style="italic" transform="rotate(-90 784.9 339.4)" stroke="#000" stroke-width="0.3">pmak21</text>
<text x="565.7" y="339.6" font-size="9.75" transform="rotate(-90 565.7 339.6)" stroke="#000" stroke-width="0.3">Body site</text>
<text x="575.8" y="339.8" font-size="10" transform="rotate(-90 575.8 339.8)" stroke="#000" stroke-width="0.3">Cohort</text>
<rect x="578.50" y="345.40" width="212.00" height="219.00" fill="#fff"/>
<defs><filter id="hb" x="0" y="0" width="1" height="1"><feGaussianBlur stdDeviation="0.25 0.4"/></filter><clipPath id="hc"><rect x="578.50" y="345.40" width="212.00" height="219.00"/></clipPath></defs><g clip-path="url(#hc)"><g filter="url(#hb)">
<rect x="576.50" y="343.40" width="216.00" height="223.00" fill="#fff"/>
<rect x="578.50" y="346.67" width="15.14" height="0.67" fill="#B0D8B8"/>
<rect x="578.50" y="349.67" width="15.14" height="2.83" fill="#DCDCF2"/>
<rect x="578.50" y="359.17" width="15.14" height="1.67" fill="#A0A8D8"/>
<rect x="578.50" y="365.00" width="15.14" height="1.17" fill="#80B0A0"/>
<rect x="578.50" y="372.17" width="15.14" height="1.67" fill="#A0A8D8"/>
<rect x="578.50" y="375.33" width="15.14" height="1.33" fill="#B8CCB0"/>
<rect x="578.50" y="377.00" width="15.14" height="1.33" fill="#C8C8E8"/>
<rect x="578.50" y="379.33" width="15.14" height="1.50" fill="#DCDCF2"/>
<rect x="578.50" y="407.50" width="15.14" height="1.17" fill="#D8C8A0"/>
<rect x="578.50" y="409.67" width="15.14" height="1.17" fill="#F0B0B0"/>
<rect x="578.50" y="411.67" width="15.14" height="1.67" fill="#B0B0E0"/>
<rect x="578.50" y="414.17" width="15.14" height="2.50" fill="#D0D870"/>
<rect x="578.50" y="417.00" width="15.14" height="1.67" fill="#70A0C0"/>
<rect x="578.50" y="429.17" width="15.14" height="1.17" fill="#806030"/>
<rect x="578.50" y="430.33" width="15.14" height="1.00" fill="#4060B0"/>
<rect x="578.50" y="432.50" width="15.14" height="1.67" fill="#6080C0"/>
<rect x="578.50" y="435.00" width="15.14" height="1.67" fill="#B0B0E0"/>
<rect x="578.50" y="437.50" width="15.14" height="2.50" fill="#D06070"/>
<rect x="593.64" y="359.17" width="15.14" height="1.67" fill="#DCDCF2"/>
<rect x="593.64" y="363.33" width="15.14" height="3.33" fill="#DCDCF2"/>
<rect x="593.64" y="374.17" width="15.14" height="1.67" fill="#B0A080"/>
<rect x="593.64" y="375.83" width="15.14" height="4.17" fill="#70A0C0"/>
<rect x="593.64" y="380.50" width="15.14" height="1.17" fill="#C08030"/>
<rect x="593.64" y="381.67" width="15.14" height="1.33" fill="#C05050"/>
<rect x="593.64" y="383.00" width="15.14" height="23.67" fill="#CCCCEA"/>
<rect x="593.64" y="389.67" width="15.14" height="1.00" fill="#A0A8D8"/>
<rect x="593.64" y="393.67" width="15.14" height="1.00" fill="#A0A8D8"/>
<rect x="593.64" y="398.00" width="15.14" height="1.00" fill="#A8B0DC"/>
<rect x="593.64" y="400.67" width="15.14" height="1.50" fill="#7090C8"/>
<rect x="593.64" y="404.17" width="15.14" height="1.17" fill="#A8A8D8"/>
<rect x="593.64" y="406.67" width="15.14" height="1.33" fill="#C8B090"/>
<rect x="593.64" y="408.00" width="15.14" height="1.33" fill="#E09090"/>
<rect x="593.64" y="409.33" width="15.14" height="1.50" fill="#C06080"/>
<rect x="593.64" y="411.67" width="15.14" height="1.67" fill="#90A0D8"/>
<rect x="593.64" y="414.17" width="15.14" height="4.17" fill="#C8C8E8"/>
<rect x="593.64" y="427.50" width="15.14" height="1.67" fill="#80A0D0"/>
<rect x="593.64" y="434.17" width="15.14" height="1.17" fill="#80A050"/>
<rect x="593.64" y="435.33" width="15.14" height="1.33" fill="#C0A070"/>
<rect x="593.64" y="436.67" width="15.14" height="1.67" fill="#D06060"/>
<rect x="593.64" y="438.33" width="15.14" height="1.67" fill="#6080C0"/>
<rect x="608.79" y="358.67" width="15.14" height="1.67" fill="#C090B0"/>
<rect x="608.79" y="364.17" width="15.14" height="2.50" fill="#DCDCF2"/>
<rect x="608.79" y="375.83" width="15.14" height="3.33" fill="#90A8D8"/>
<rect x="608.79" y="379.33" width="15.14" height="1.00" fill="#DCDCF2"/>
<rect x="608.79" y="411.67" width="15.14" height="1.33" fill="#604080"/>
<rect x="608.79" y="413.33" width="15.14" height="2.50" fill="#60A080"/>
<rect x="608.79" y="416.33" width="15.14" height="2.33" fill="#C84050"/>
<rect x="608.79" y="419.17" width="15.14" height="7.50" fill="#C8C8E8"/>
<rect x="608.79" y="427.00" width="15.14" height="2.17" fill="#909070"/>
<rect x="608.79" y="437.50" width="15.14" height="1.67" fill="#DCDCF2"/>
<rect x="623.93" y="346.33" width="15.14" height="1.33" fill="#D0A0C0"/>
<rect x="623.93" y="417.50" width="15.14" height="0.83" fill="#90A8D8"/>
<rect x="623.93" y="429.50" width="15.14" height="1.83" fill="#708040"/>
<rect x="623.93" y="433.17" width="15.14" height="0.67" fill="#B0C0E0"/>
<rect x="623.93" y="438.33" width="15.14" height="1.67" fill="#DCDCF2"/>
<rect x="639.07" y="359.50" width="15.14" height="1.33" fill="#5090A0"/>
<rect x="639.07" y="360.83" width="15.14" height="0.83" fill="#E0D880"/>
<rect x="639.07" y="362.50" width="15.14" height="1.17" fill="#C8C8E8"/>
<rect x="639.07" y="407.17" width="15.14" height="1.17" fill="#E8F0C0"/>
<rect x="639.07" y="411.67" width="15.14" height="0.67" fill="#E8E8F6"/>
<rect x="654.21" y="365.00" width="15.14" height="2.50" fill="#809060"/>
<rect x="654.21" y="368.00" width="15.14" height="3.67" fill="#C0C0E0"/>
<rect x="654.21" y="372.00" width="15.14" height="1.33" fill="#E07040"/>
<rect x="654.21" y="373.33" width="15.14" height="2.00" fill="#B090A0"/>
<rect x="654.21" y="380.83" width="15.14" height="0.83" fill="#90A8D0"/>
<rect x="654.21" y="410.00" width="15.14" height="0.83" fill="#90A8D0"/>
<rect x="654.21" y="413.33" width="15.14" height="0.67" fill="#DCDCF2"/>
<rect x="654.21" y="416.67" width="15.14" height="0.83" fill="#DCDCF2"/>
<rect x="654.21" y="431.67" width="15.14" height="2.00" fill="#C0C0E0"/>
<rect x="654.21" y="438.00" width="15.14" height="0.67" fill="#C0E0B0"/>
<rect x="669.36" y="350.33" width="15.14" height="2.17" fill="#5080C0"/>
<rect x="669.36" y="353.67" width="15.14" height="1.33" fill="#90A8D8"/>
<rect x="669.36" y="355.50" width="15.14" height="2.00" fill="#C8C8E8"/>
<rect x="669.36" y="358.00" width="15.14" height="2.33" fill="#A0A0B8"/>
<rect x="669.36" y="364.67" width="15.14" height="2.00" fill="#DCDCF2"/>
<rect x="669.36" y="375.00" width="15.14" height="0.83" fill="#B0C0E0"/>
<rect x="669.36" y="378.00" width="15.14" height="0.67" fill="#DCDCF2"/>
<rect x="669.36" y="381.67" width="15.14" height="0.83" fill="#A0B0D8"/>
<rect x="669.36" y="410.00" width="15.14" height="1.33" fill="#B04060"/>
<rect x="669.36" y="411.67" width="15.14" height="1.33" fill="#7090C8"/>
<rect x="669.36" y="414.67" width="15.14" height="1.17" fill="#80C0B0"/>
<rect x="669.36" y="416.67" width="15.14" height="2.00" fill="#B0B0E0"/>
<rect x="669.36" y="428.33" width="15.14" height="1.33" fill="#C8C8E8"/>
<rect x="669.36" y="429.67" width="15.14" height="0.67" fill="#A0D0A0"/>
<rect x="669.36" y="430.33" width="15.14" height="0.67" fill="#C8C8E8"/>
<rect x="669.36" y="433.67" width="15.14" height="1.33" fill="#90A8D8"/>
<rect x="669.36" y="438.67" width="15.14" height="1.33" fill="#90A090"/>
<rect x="699.64" y="358.83" width="15.14" height="0.67" fill="#E8E8F6"/>
<rect x="699.64" y="365.50" width="15.14" height="0.67" fill="#E8E8F6"/>
<rect x="699.64" y="375.00" width="15.14" height="0.67" fill="#E8E8F6"/>
<rect x="699.64" y="379.67" width="15.14" height="0.67" fill="#E8E8F6"/>
<rect x="699.64" y="409.67" width="15.14" height="0.83" fill="#DCDCF2"/>
<rect x="699.64" y="413.33" width="15.14" height="0.50" fill="#E8E8F6"/>
<rect x="699.64" y="416.33" width="15.14" height="0.67" fill="#E8E8F6"/>
<rect x="699.64" y="429.67" width="15.14" height="0.67" fill="#DCDCF2"/>
<rect x="699.64" y="434.17" width="15.14" height="1.67" fill="#DCDCF2"/>
<rect x="699.64" y="438.33" width="15.14" height="1.67" fill="#E8E8F6"/>
<rect x="714.79" y="348.00" width="15.14" height="1.17" fill="#D8D8F0"/>
<rect x="714.79" y="350.33" width="15.14" height="1.67" fill="#B8B8E0"/>
<rect x="714.79" y="358.67" width="15.14" height="1.67" fill="#B0B0E0"/>
<rect x="714.79" y="365.00" width="15.14" height="1.67" fill="#E8E8F6"/>
<rect x="714.79" y="410.00" width="15.14" height="0.83" fill="#C8C8E8"/>
<rect x="714.79" y="414.67" width="15.14" height="1.67" fill="#B0B0E0"/>
<rect x="714.79" y="417.00" width="15.14" height="1.33" fill="#DCDCF2"/>
<rect x="714.79" y="429.17" width="15.14" height="0.83" fill="#C8C8E8"/>
<rect x="714.79" y="438.33" width="15.14" height="1.67" fill="#DCDCF2"/>
<rect x="729.93" y="407.50" width="15.14" height="0.50" fill="#E8E8F6"/>
<rect x="729.93" y="435.00" width="15.14" height="1.00" fill="#B8B8E0"/>
<rect x="729.93" y="439.17" width="15.14" height="0.83" fill="#DCDCF2"/>
<rect x="745.07" y="363.33" width="15.14" height="1.33" fill="#C8C8E8"/>
<rect x="745.07" y="375.50" width="15.14" height="0.83" fill="#DCDCF2"/>
<rect x="745.07" y="411.67" width="15.14" height="0.83" fill="#E8E8F6"/>
<rect x="745.07" y="433.33" width="15.14" height="1.33" fill="#C8C8E8"/>
<rect x="745.07" y="435.83" width="15.14" height="1.67" fill="#E8E8F6"/>
<rect x="760.21" y="374.67" width="15.14" height="1.00" fill="#C0C0E8"/>
<rect x="760.21" y="407.50" width="15.14" height="0.83" fill="#C8C8E8"/>
<rect x="775.36" y="358.67" width="15.14" height="1.00" fill="#DCDCF2"/>
<rect x="775.36" y="411.67" width="15.14" height="5.83" fill="#E4E4F5"/>
<rect x="775.36" y="427.83" width="15.14" height="0.83" fill="#C8C8E8"/>
<rect x="578.50" y="440.00" width="15.14" height="1.33" fill="#6080C0"/>
<rect x="578.50" y="441.33" width="15.14" height="1.33" fill="#E090A0"/>
<rect x="578.50" y="442.67" width="15.14" height="2.33" fill="#7088C8"/>
<rect x="578.50" y="445.00" width="15.14" height="2.50" fill="#E04040"/>
<rect x="578.50" y="447.50" width="15.14" height="2.17" fill="#9090D0"/>
<rect x="578.50" y="449.67" width="15.14" height="1.00" fill="#E0A0B0"/>
<rect x="578.50" y="450.67" width="15.14" height="1.00" fill="#9090D0"/>
<rect x="578.50" y="451.67" width="15.14" height="3.33" fill="#A0A8C0"/>
<rect x="578.50" y="455.00" width="15.14" height="1.67" fill="#8060A0"/>
<rect x="578.50" y="456.67" width="15.14" height="2.00" fill="#B08040"/>
<rect x="578.50" y="458.67" width="15.14" height="2.17" fill="#C04060"/>
<rect x="578.50" y="460.83" width="15.14" height="2.50" fill="#7060A0"/>
<rect x="578.50" y="463.33" width="15.14" height="3.33" fill="#E05050"/>
<rect x="578.50" y="466.67" width="15.14" height="2.00" fill="#A07070"/>
<rect x="578.50" y="468.67" width="15.14" height="2.17" fill="#909060"/>
<rect x="578.50" y="470.83" width="15.14" height="2.17" fill="#D04040"/>
<rect x="578.50" y="473.00" width="15.14" height="2.00" fill="#B06080"/>
<rect x="578.50" y="475.00" width="15.14" height="3.33" fill="#5060C0"/>
<rect x="578.50" y="478.33" width="15.14" height="5.83" fill="#E04030"/>
<rect x="578.50" y="484.17" width="15.14" height="2.50" fill="#508070"/>
<rect x="578.50" y="486.67" width="15.14" height="10.00" fill="#F02820"/>
<rect x="578.50" y="496.67" width="15.14" height="1.67" fill="#F06040"/>
<rect x="578.50" y="498.33" width="15.14" height="2.50" fill="#D0B0D0"/>
<rect x="578.50" y="500.83" width="15.14" height="1.67" fill="#7080C8"/>
<rect x="578.50" y="502.50" width="15.14" height="3.33" fill="#C0C0E8"/>
<rect x="578.50" y="505.83" width="15.14" height="1.67" fill="#8090C0"/>
<rect x="578.50" y="507.50" width="15.14" height="0.83" fill="#70A090"/>
<rect x="578.50" y="508.33" width="15.14" height="0.83" fill="#8090C0"/>
<rect x="578.50" y="509.17" width="15.14" height="4.17" fill="#B0B8D0"/>
<rect x="578.50" y="513.33" width="15.14" height="2.50" fill="#7080C8"/>
<rect x="578.50" y="515.83" width="15.14" height="1.67" fill="#B0A8D0"/>
<rect x="578.50" y="517.50" width="15.14" height="1.17" fill="#D0A0C0"/>
<rect x="578.50" y="518.67" width="15.14" height="1.33" fill="#A0A8D8"/>
<rect x="578.50" y="520.00" width="15.14" height="1.17" fill="#90B0B0"/>
<rect x="578.50" y="521.17" width="15.14" height="2.17" fill="#B0A8D8"/>
<rect x="578.50" y="523.33" width="15.14" height="2.00" fill="#9098D0"/>
<rect x="578.50" y="525.33" width="15.14" height="1.33" fill="#B8B0E0"/>
<rect x="578.50" y="526.67" width="15.14" height="1.67" fill="#8088C8"/>
<rect x="578.50" y="528.33" width="15.14" height="2.50" fill="#A0A0D8"/>
<rect x="578.50" y="530.83" width="15.14" height="3.33" fill="#D0D0F0"/>
<rect x="578.50" y="534.17" width="15.14" height="2.50" fill="#E04040"/>
<rect x="578.50" y="536.67" width="15.14" height="1.00" fill="#E87030"/>
<rect x="578.50" y="537.67" width="15.14" height="1.00" fill="#6070C0"/>
<rect x="578.50" y="538.67" width="15.14" height="3.83" fill="#E05030"/>
<rect x="578.50" y="542.50" width="15.14" height="1.67" fill="#70A050"/>
<rect x="593.64" y="440.00" width="15.14" height="1.67" fill="#6080C0"/>
<rect x="593.64" y="442.00" width="15.14" height="1.33" fill="#E08060"/>
<rect x="593.64" y="443.67" width="15.14" height="2.17" fill="#C0C8E8"/>
<rect x="593.64" y="446.67" width="15.14" height="1.00" fill="#C07060"/>
<rect x="593.64" y="450.00" width="15.14" height="2.50" fill="#C8C8E8"/>
<rect x="593.64" y="455.83" width="15.14" height="1.17" fill="#C080B0"/>
<rect x="593.64" y="457.50" width="15.14" height="1.00" fill="#70A070"/>
<rect x="593.64" y="458.50" width="15.14" height="1.17" fill="#6080C0"/>
<rect x="593.64" y="459.67" width="15.14" height="2.00" fill="#909090"/>
<rect x="593.64" y="463.33" width="15.14" height="1.67" fill="#DCDCF2"/>
<rect x="593.64" y="467.50" width="15.14" height="3.33" fill="#DCDCF2"/>
<rect x="593.64" y="471.67" width="15.14" height="3.33" fill="#C8C8E8"/>
<rect x="593.64" y="478.67" width="15.14" height="5.00" fill="#C8C8E8"/>
<rect x="593.64" y="480.33" width="15.14" height="0.83" fill="#A0A0D8"/>
<rect x="593.64" y="485.83" width="15.14" height="3.33" fill="#E0E0F8"/>
<rect x="593.64" y="490.83" width="15.14" height="1.17" fill="#60A080"/>
<rect x="593.64" y="493.00" width="15.14" height="1.17" fill="#C8C8E8"/>
<rect x="593.64" y="536.67" width="15.14" height="2.50" fill="#4858B8"/>
<rect x="593.64" y="540.50" width="15.14" height="1.00" fill="#609070"/>
<rect x="593.64" y="541.50" width="15.14" height="1.00" fill="#8090C0"/>
<rect x="608.79" y="446.33" width="15.14" height="1.67" fill="#C89090"/>
<rect x="608.79" y="448.33" width="15.14" height="1.67" fill="#C8C8E8"/>
<rect x="608.79" y="450.83" width="15.14" height="2.50" fill="#E8E8F6"/>
<rect x="608.79" y="455.83" width="15.14" height="0.83" fill="#C8C8E8"/>
<rect x="608.79" y="458.00" width="15.14" height="1.17" fill="#8090C8"/>
<rect x="608.79" y="460.83" width="15.14" height="0.83" fill="#E8E8F6"/>
<rect x="608.79" y="465.33" width="15.14" height="1.67" fill="#A0A8B8"/>
<rect x="608.79" y="467.00" width="15.14" height="1.67" fill="#C8C8E8"/>
<rect x="608.79" y="468.67" width="15.14" height="1.00" fill="#80B090"/>
<rect x="608.79" y="469.67" width="15.14" height="1.17" fill="#A0A8B8"/>
<rect x="608.79" y="472.50" width="15.14" height="2.17" fill="#C8C8E8"/>
<rect x="608.79" y="479.17" width="15.14" height="0.83" fill="#E8E8F6"/>
<rect x="608.79" y="483.00" width="15.14" height="1.17" fill="#C06080"/>
<rect x="608.79" y="488.33" width="15.14" height="1.67" fill="#E8E8F6"/>
<rect x="608.79" y="492.00" width="15.14" height="1.00" fill="#7090C8"/>
<rect x="608.79" y="495.83" width="15.14" height="0.83" fill="#C8C8E8"/>
<rect x="608.79" y="533.83" width="15.14" height="1.17" fill="#8090D0"/>
<rect x="608.79" y="536.67" width="15.14" height="0.83" fill="#E8E8F6"/>
<rect x="608.79" y="540.83" width="15.14" height="1.67" fill="#B0B0E0"/>
<rect x="623.93" y="443.33" width="15.14" height="4.17" fill="#E8E8F6"/>
<rect x="623.93" y="455.33" width="15.14" height="1.33" fill="#E0D0B0"/>
<rect x="623.93" y="458.00" width="15.14" height="1.17" fill="#70A0A0"/>
<rect x="623.93" y="462.50" width="15.14" height="0.83" fill="#E09050"/>
<rect x="623.93" y="463.67" width="15.14" height="1.67" fill="#30A080"/>
<rect x="623.93" y="469.17" width="15.14" height="0.83" fill="#B0C8E8"/>
<rect x="623.93" y="472.00" width="15.14" height="1.00" fill="#C0D0C0"/>
<rect x="623.93" y="473.83" width="15.14" height="1.17" fill="#6080C0"/>
<rect x="623.93" y="480.00" width="15.14" height="2.50" fill="#B8B8E0"/>
<rect x="623.93" y="488.67" width="15.14" height="1.33" fill="#90B0A0"/>
<rect x="623.93" y="490.00" width="15.14" height="0.83" fill="#DCDCF2"/>
<rect x="639.07" y="444.17" width="15.14" height="2.50" fill="#908060"/>
<rect x="639.07" y="450.83" width="15.14" height="0.83" fill="#E8E8F6"/>
<rect x="639.07" y="455.83" width="15.14" height="0.83" fill="#F0F0C0"/>
<rect x="639.07" y="458.33" width="15.14" height="3.33" fill="#E8E8F6"/>
<rect x="639.07" y="470.83" width="15.14" height="0.83" fill="#E8E8F6"/>
<rect x="639.07" y="478.83" width="15.14" height="1.17" fill="#A08050"/>
<rect x="639.07" y="490.00" width="15.14" height="1.00" fill="#C05070"/>
<rect x="639.07" y="492.00" width="15.14" height="1.00" fill="#A0B8E0"/>
<rect x="639.07" y="535.33" width="15.14" height="1.67" fill="#D0D8F0"/>
<rect x="654.21" y="445.00" width="15.14" height="0.83" fill="#70C0B0"/>
<rect x="654.21" y="455.33" width="15.14" height="1.67" fill="#F8D0A0"/>
<rect x="654.21" y="464.67" width="15.14" height="1.33" fill="#90B0A0"/>
<rect x="654.21" y="468.67" width="15.14" height="1.00" fill="#A0D0D0"/>
<rect x="654.21" y="470.83" width="15.14" height="2.17" fill="#A0A080"/>
<rect x="654.21" y="478.33" width="15.14" height="0.83" fill="#E8E8F6"/>
<rect x="654.21" y="481.67" width="15.14" height="1.33" fill="#609070"/>
<rect x="654.21" y="488.33" width="15.14" height="1.33" fill="#D8E0F4"/>
<rect x="654.21" y="540.50" width="15.14" height="0.67" fill="#E8E8F6"/>
<rect x="669.36" y="440.00" width="15.14" height="0.83" fill="#C8C8E8"/>
<rect x="669.36" y="442.00" width="15.14" height="1.00" fill="#C8C8E8"/>
<rect x="669.36" y="444.67" width="15.14" height="3.33" fill="#C0C0E0"/>
<rect x="669.36" y="450.83" width="15.14" height="2.83" fill="#A0A8C0"/>
<rect x="669.36" y="455.33" width="15.14" height="1.33" fill="#E8E8F6"/>
<rect x="669.36" y="458.33" width="15.14" height="3.33" fill="#C8C8E8"/>
<rect x="669.36" y="464.67" width="15.14" height="0.67" fill="#70B080"/>
<rect x="669.36" y="465.33" width="15.14" height="1.33" fill="#9090D0"/>
<rect x="669.36" y="469.17" width="15.14" height="0.83" fill="#D0E8D0"/>
<rect x="669.36" y="470.83" width="15.14" height="2.50" fill="#A0A8E0"/>
<rect x="669.36" y="473.33" width="15.14" height="1.67" fill="#407080"/>
<rect x="669.36" y="478.67" width="15.14" height="1.33" fill="#6080A0"/>
<rect x="669.36" y="481.67" width="15.14" height="1.17" fill="#9090D0"/>
<rect x="669.36" y="482.83" width="15.14" height="0.83" fill="#80B090"/>
<rect x="669.36" y="488.33" width="15.14" height="1.67" fill="#B0C0B0"/>
<rect x="669.36" y="490.00" width="15.14" height="1.33" fill="#C8C8E8"/>
<rect x="669.36" y="491.67" width="15.14" height="1.33" fill="#B0B8B0"/>
<rect x="669.36" y="495.83" width="15.14" height="0.83" fill="#F8F0B0"/>
<rect x="669.36" y="534.17" width="15.14" height="0.83" fill="#E8E8F6"/>
<rect x="669.36" y="536.33" width="15.14" height="2.00" fill="#6870C0"/>
<rect x="669.36" y="540.00" width="15.14" height="0.83" fill="#E8E8F6"/>
<rect x="684.50" y="544.17" width="15.14" height="1.17" fill="#F0B8C8"/>
<rect x="684.50" y="545.33" width="15.14" height="2.67" fill="#D4D0EE"/>
<rect x="699.64" y="442.17" width="15.14" height="0.67" fill="#E8E8F6"/>
<rect x="699.64" y="454.67" width="15.14" height="1.17" fill="#D0D0F0"/>
<rect x="699.64" y="461.67" width="15.14" height="1.67" fill="#C0C0E8"/>
<rect x="699.64" y="466.67" width="15.14" height="1.33" fill="#B0B0E0"/>
<rect x="699.64" y="471.33" width="15.14" height="1.17" fill="#C0D8E0"/>
<rect x="699.64" y="478.33" width="15.14" height="2.50" fill="#C0C0E8"/>
<rect x="699.64" y="483.00" width="15.14" height="0.67" fill="#C8C8E8"/>
<rect x="699.64" y="487.50" width="15.14" height="0.83" fill="#E8E8F6"/>
<rect x="699.64" y="489.17" width="15.14" height="0.50" fill="#E8E8F6"/>
<rect x="699.64" y="491.33" width="15.14" height="1.00" fill="#A0A0E0"/>
<rect x="699.64" y="493.67" width="15.14" height="1.33" fill="#70B0A0"/>
<rect x="699.64" y="534.67" width="15.14" height="1.17" fill="#90B0B0"/>
<rect x="699.64" y="538.00" width="15.14" height="0.67" fill="#E8E8F6"/>
<rect x="699.64" y="543.33" width="15.14" height="0.83" fill="#DCDCF2"/>
<rect x="714.79" y="445.33" width="15.14" height="1.00" fill="#C0C0E8"/>
<rect x="714.79" y="451.33" width="15.14" height="0.67" fill="#E8E8F6"/>
<rect x="714.79" y="459.17" width="15.14" height="0.83" fill="#DCDCF2"/>
<rect x="714.79" y="464.67" width="15.14" height="1.33" fill="#9098D8"/>
<rect x="714.79" y="471.67" width="15.14" height="2.17" fill="#B0B0E0"/>
<rect x="714.79" y="478.67" width="15.14" height="1.83" fill="#9098D8"/>
<rect x="714.79" y="482.50" width="15.14" height="1.17" fill="#C8C8E8"/>
<rect x="714.79" y="488.33" width="15.14" height="0.83" fill="#E8E8F6"/>
<rect x="714.79" y="491.67" width="15.14" height="1.00" fill="#B0E0B0"/>
<rect x="714.79" y="495.83" width="15.14" height="0.83" fill="#E8E8F6"/>
<rect x="714.79" y="536.67" width="15.14" height="0.83" fill="#C8C8E8"/>
<rect x="729.93" y="441.67" width="15.14" height="0.83" fill="#DCDCF2"/>
<rect x="729.93" y="445.33" width="15.14" height="1.67" fill="#C0C0E8"/>
<rect x="729.93" y="454.17" width="15.14" height="1.67" fill="#E8E8F6"/>
<rect x="729.93" y="460.33" width="15.14" height="2.17" fill="#D0D0F0"/>
<rect x="729.93" y="463.33" width="15.14" height="1.67" fill="#C8C8E8"/>
<rect x="729.93" y="474.17" width="15.14" height="3.33" fill="#E0E0F8"/>
<rect x="729.93" y="480.83" width="15.14" height="5.00" fill="#D0D0F0"/>
<rect x="729.93" y="486.67" width="15.14" height="1.67" fill="#9090D8"/>
<rect x="729.93" y="491.33" width="15.14" height="0.67" fill="#E8E8F6"/>
<rect x="729.93" y="494.67" width="15.14" height="0.67" fill="#E8E8F6"/>
<rect x="729.93" y="535.83" width="15.14" height="0.83" fill="#C0E0E0"/>
<rect x="729.93" y="540.83" width="15.14" height="0.83" fill="#E8E8F6"/>
<rect x="745.07" y="445.83" width="15.14" height="1.17" fill="#B0B0E0"/>
<rect x="745.07" y="455.00" width="15.14" height="0.83" fill="#C8C8E8"/>
<rect x="745.07" y="460.50" width="15.14" height="0.67" fill="#E8E8F6"/>
<rect x="745.07" y="464.67" width="15.14" height="0.67" fill="#E8E8F6"/>
<rect x="745.07" y="470.83" width="15.14" height="1.67" fill="#E8E8F6"/>
<rect x="745.07" y="487.17" width="15.14" height="0.67" fill="#DCDCF2"/>
<rect x="745.07" y="490.00" width="15.14" height="0.83" fill="#DCDCF2"/>
<rect x="745.07" y="492.00" width="15.14" height="1.00" fill="#A8A8E0"/>
<rect x="745.07" y="495.50" width="15.14" height="0.67" fill="#E8E8F6"/>
<rect x="745.07" y="535.33" width="15.14" height="1.33" fill="#DCDCF2"/>
<rect x="745.07" y="539.17" width="15.14" height="0.83" fill="#C8C8E8"/>
<rect x="760.21" y="446.67" width="15.14" height="0.83" fill="#C8C8E8"/>
<rect x="760.21" y="455.83" width="15.14" height="0.83" fill="#DCDCF2"/>
<rect x="760.21" y="460.83" width="15.14" height="0.83" fill="#E8E8F6"/>
<rect x="760.21" y="467.50" width="15.14" height="0.83" fill="#E8E8F6"/>
<rect x="775.36" y="446.67" width="15.14" height="0.83" fill="#E8E8F6"/>
<rect x="775.36" y="465.00" width="15.14" height="3.33" fill="#F0F0FA"/>
<rect x="775.36" y="471.33" width="15.14" height="0.67" fill="#E8E8F6"/>
<rect x="775.36" y="478.00" width="15.14" height="0.67" fill="#E8E8F6"/>
<rect x="775.36" y="483.83" width="15.14" height="0.67" fill="#E8E8F6"/>
<rect x="775.36" y="492.17" width="15.14" height="0.67" fill="#E8E8F6"/>
<rect x="775.36" y="495.50" width="15.14" height="0.67" fill="#E8E8F6"/>
<rect x="684.50" y="545.40" width="15.14" height="18.00" fill="#D6D6F0"/>
<rect x="684.50" y="546.20" width="15.14" height="0.60" fill="#9C9CDC"/>
<rect x="684.50" y="547.80" width="15.14" height="0.60" fill="#9C9CDC"/>
<rect x="684.50" y="549.40" width="15.14" height="0.60" fill="#9C9CDC"/>
<rect x="684.50" y="551.40" width="15.14" height="0.60" fill="#9C9CDC"/>
<rect x="684.50" y="553.40" width="15.14" height="0.60" fill="#A8A8E0"/>
<rect x="684.50" y="555.00" width="15.14" height="0.60" fill="#A8A8E0"/>
<rect x="684.50" y="557.00" width="15.14" height="0.60" fill="#A8A8E0"/>
<rect x="684.50" y="558.30" width="15.14" height="0.60" fill="#A8A8E0"/>
<rect x="684.50" y="559.90" width="15.14" height="0.60" fill="#B8B8E6"/>
<rect x="684.50" y="561.20" width="15.14" height="0.60" fill="#B8B8E6"/>
</g></g>
<rect x="578.20" y="345.40" width="1.90" height="219.00" fill="#858585"/>
<polyline points="578.20,345.50 790.50,345.50 790.50,564.40 578.20,564.40" fill="none" stroke="#111" stroke-width="0.9"/>
<rect x="560.70" y="345.40" width="5.90" height="219.00" fill="#3CC1C8"/>
<rect x="560.70" y="357.30" width="5.90" height="0.50" fill="#C08A2C"/>
<rect x="560.70" y="362.20" width="5.90" height="0.90" fill="#C08A2C"/>
<rect x="560.70" y="364.80" width="5.90" height="0.50" fill="#C08A2C"/>
<rect x="560.70" y="382.60" width="5.90" height="2.00" fill="#6FA69A"/>
<rect x="560.70" y="399.30" width="5.90" height="3.90" fill="#C08A2C"/>
<rect x="560.70" y="406.60" width="5.90" height="1.10" fill="#C08A2C"/>
<rect x="560.70" y="422.20" width="5.90" height="0.50" fill="#C08A2C"/>
<rect x="560.70" y="439.80" width="5.90" height="0.50" fill="#C08A2C"/>
<rect x="560.70" y="448.90" width="5.90" height="0.50" fill="#C08A2C"/>
<rect x="560.70" y="453.80" width="5.90" height="0.80" fill="#C08A2C"/>
<rect x="560.70" y="463.50" width="5.90" height="0.50" fill="#5AB0B0"/>
<rect x="560.70" y="499.80" width="5.90" height="0.70" fill="#C08A2C"/>
<rect x="560.70" y="503.00" width="5.90" height="0.50" fill="#5AB0B0"/>
<rect x="560.70" y="507.00" width="5.90" height="0.60" fill="#C08A2C"/>
<rect x="560.70" y="508.60" width="5.90" height="0.60" fill="#C08A2C"/>
<rect x="560.70" y="530.80" width="5.90" height="1.80" fill="#C08A2C"/>
<rect x="560.70" y="544.60" width="5.90" height="19.80" fill="#BF8C2E"/>
<rect x="560.70" y="345.40" width="5.90" height="219.00" fill="none" stroke="#000" stroke-width="1.0"/>
<rect x="568.20" y="345.40" width="7.70" height="219.00" fill="#6E7C9C"/>
<rect x="568.20" y="345.40" width="7.70" height="1.20" fill="#8A6AA8"/>
<rect x="568.20" y="346.60" width="7.70" height="1.20" fill="#9A3040"/>
<rect x="568.20" y="347.80" width="7.70" height="1.60" fill="#8A6AA8"/>
<rect x="568.20" y="349.40" width="7.70" height="0.80" fill="#6E7C9C"/>
<rect x="568.20" y="350.20" width="7.70" height="1.60" fill="#3E8F80"/>
<rect x="568.20" y="351.80" width="7.70" height="1.60" fill="#6E7C9C"/>
<rect x="568.20" y="353.40" width="7.70" height="0.60" fill="#9A3040"/>
<rect x="568.20" y="354.00" width="7.70" height="1.00" fill="#6E7C9C"/>
<rect x="568.20" y="355.00" width="7.70" height="0.60" fill="#8A6AA8"/>
<rect x="568.20" y="355.60" width="7.70" height="0.60" fill="#8A6AA8"/>
<rect x="568.20" y="356.20" width="7.70" height="1.20" fill="#9A3040"/>
<rect x="568.20" y="357.40" width="7.70" height="1.60" fill="#6E7C9C"/>
<rect x="568.20" y="359.00" width="7.70" height="1.60" fill="#6E7C9C"/>
<rect x="568.20" y="360.60" width="7.70" height="1.60" fill="#6E7C9C"/>
<rect x="568.20" y="362.20" width="7.70" height="0.60" fill="#6E7C9C"/>
<rect x="568.20" y="362.80" width="7.70" height="0.80" fill="#6E7C9C"/>
<rect x="568.20" y="363.60" width="7.70" height="1.60" fill="#6E7C9C"/>
<rect x="568.20" y="365.20" width="7.70" height="1.20" fill="#A058C0"/>
<rect x="568.20" y="366.40" width="7.70" height="1.20" fill="#8A6AA8"/>
<rect x="568.20" y="367.60" width="7.70" height="0.80" fill="#3E8F80"/>
<rect x="568.20" y="368.40" width="7.70" height="0.80" fill="#A058C0"/>
<rect x="568.20" y="369.20" width="7.70" height="1.20" fill="#6E7C9C"/>
<rect x="568.20" y="370.40" width="7.70" height="0.60" fill="#9A3040"/>
<rect x="568.20" y="371.00" width="7.70" height="1.00" fill="#9A3040"/>
<rect x="568.20" y="372.00" width="7.70" height="1.60" fill="#6E7C9C"/>
<rect x="568.20" y="373.60" width="7.70" height="1.00" fill="#A058C0"/>
<rect x="568.20" y="374.60" width="7.70" height="0.80" fill="#3E8F80"/>
<rect x="568.20" y="375.40" width="7.70" height="1.00" fill="#6E7C9C"/>
<rect x="568.20" y="376.40" width="7.70" height="0.60" fill="#8A6AA8"/>
<rect x="568.20" y="377.00" width="7.70" height="0.60" fill="#9A3040"/>
<rect x="568.20" y="377.60" width="7.70" height="0.60" fill="#A058C0"/>
<rect x="568.20" y="378.20" width="7.70" height="1.20" fill="#6E7C9C"/>
<rect x="568.20" y="379.40" width="7.70" height="0.60" fill="#6E7C9C"/>
<rect x="568.20" y="380.00" width="7.70" height="0.80" fill="#6E7C9C"/>
<rect x="568.20" y="380.80" width="7.70" height="0.60" fill="#3E8F80"/>
<rect x="568.20" y="381.40" width="7.70" height="1.20" fill="#9A3040"/>
<rect x="568.20" y="382.60" width="7.70" height="1.20" fill="#6E7C9C"/>
<rect x="568.20" y="383.80" width="7.70" height="1.60" fill="#6E7C9C"/>
<rect x="568.20" y="385.40" width="7.70" height="1.00" fill="#A058C0"/>
<rect x="568.20" y="386.40" width="7.70" height="0.60" fill="#A058C0"/>
<rect x="568.20" y="387.00" width="7.70" height="1.00" fill="#6E7C9C"/>
<rect x="568.20" y="388.00" width="7.70" height="1.20" fill="#6E7C9C"/>
<rect x="568.20" y="389.20" width="7.70" height="0.80" fill="#6E7C9C"/>
<rect x="568.20" y="390.00" width="7.70" height="0.60" fill="#6E7C9C"/>
<rect x="568.20" y="390.60" width="7.70" height="0.60" fill="#9A3040"/>
<rect x="568.20" y="391.20" width="7.70" height="1.20" fill="#6E7C9C"/>
<rect x="568.20" y="392.40" width="7.70" height="1.60" fill="#6E7C9C"/>
<rect x="568.20" y="394.00" width="7.70" height="1.20" fill="#3E8F80"/>
<rect x="568.20" y="395.20" width="7.70" height="0.80" fill="#6E7C9C"/>
<rect x="568.20" y="396.00" width="7.70" height="1.20" fill="#9A3040"/>
<rect x="568.20" y="397.20" width="7.70" height="0.60" fill="#9A3040"/>
<rect x="568.20" y="397.80" width="7.70" height="1.20" fill="#6E7C9C"/>
<rect x="568.20" y="399.00" width="7.70" height="0.60" fill="#A058C0"/>
<rect x="568.20" y="399.60" width="7.70" height="1.60" fill="#A058C0"/>
<rect x="568.20" y="401.20" width="7.70" height="0.60" fill="#6E7C9C"/>
<rect x="568.20" y="401.80" width="7.70" height="0.80" fill="#9A3040"/>
<rect x="568.20" y="402.60" width="7.70" height="1.60" fill="#8A6AA8"/>
<rect x="568.20" y="404.20" width="7.70" height="0.60" fill="#6E7C9C"/>
<rect x="568.20" y="404.80" width="7.70" height="0.80" fill="#6E7C9C"/>
<rect x="568.20" y="405.60" width="7.70" height="1.20" fill="#A058C0"/>
<rect x="568.20" y="406.80" width="7.70" height="0.60" fill="#8A6AA8"/>
<rect x="568.20" y="407.40" width="7.70" height="1.00" fill="#A058C0"/>
<rect x="568.20" y="408.40" width="7.70" height="1.20" fill="#6E7C9C"/>
<rect x="568.20" y="409.60" width="7.70" height="0.60" fill="#6E7C9C"/>
<rect x="568.20" y="410.20" width="7.70" height="0.80" fill="#8A6AA8"/>
<rect x="568.20" y="411.00" width="7.70" height="0.80" fill="#6E7C9C"/>
<rect x="568.20" y="411.80" width="7.70" height="1.60" fill="#A058C0"/>
<rect x="568.20" y="413.40" width="7.70" height="1.00" fill="#8A6AA8"/>
<rect x="568.20" y="414.40" width="7.70" height="1.20" fill="#6E7C9C"/>
<rect x="568.20" y="415.60" width="7.70" height="1.60" fill="#3E8F80"/>
<rect x="568.20" y="417.20" width="7.70" height="1.60" fill="#6E7C9C"/>
<rect x="568.20" y="418.80" width="7.70" height="1.20" fill="#6E7C9C"/>
<rect x="568.20" y="420.00" width="7.70" height="0.80" fill="#A058C0"/>
<rect x="568.20" y="420.80" width="7.70" height="0.80" fill="#8A6AA8"/>
<rect x="568.20" y="421.60" width="7.70" height="0.80" fill="#6E7C9C"/>
<rect x="568.20" y="422.40" width="7.70" height="0.80" fill="#8A6AA8"/>
<rect x="568.20" y="423.20" width="7.70" height="0.80" fill="#9A3040"/>
<rect x="568.20" y="424.00" width="7.70" height="1.20" fill="#8A6AA8"/>
<rect x="568.20" y="425.20" width="7.70" height="0.60" fill="#9A3040"/>
<rect x="568.20" y="425.80" width="7.70" height="0.60" fill="#6E7C9C"/>
<rect x="568.20" y="426.40" width="7.70" height="0.60" fill="#6E7C9C"/>
<rect x="568.20" y="427.00" width="7.70" height="1.60" fill="#A058C0"/>
<rect x="568.20" y="428.60" width="7.70" height="0.80" fill="#9A3040"/>
<rect x="568.20" y="429.40" width="7.70" height="1.00" fill="#9A3040"/>
<rect x="568.20" y="430.40" width="7.70" height="1.60" fill="#3E8F80"/>
<rect x="568.20" y="432.00" width="7.70" height="1.00" fill="#3E8F80"/>
<rect x="568.20" y="433.00" width="7.70" height="0.80" fill="#6E7C9C"/>
<rect x="568.20" y="433.80" width="7.70" height="0.80" fill="#6E7C9C"/>
<rect x="568.20" y="434.60" width="7.70" height="1.20" fill="#8A6AA8"/>
<rect x="568.20" y="435.80" width="7.70" height="1.60" fill="#8A6AA8"/>
<rect x="568.20" y="437.40" width="7.70" height="0.60" fill="#A058C0"/>
<rect x="568.20" y="438.00" width="7.70" height="0.80" fill="#6E7C9C"/>
<rect x="568.20" y="438.80" width="7.70" height="0.60" fill="#6E7C9C"/>
<rect x="568.20" y="439.40" width="7.70" height="1.00" fill="#9A3040"/>
<rect x="568.20" y="440.40" width="7.70" height="1.20" fill="#6E7C9C"/>
<rect x="568.20" y="441.60" width="7.70" height="0.60" fill="#6E7C9C"/>
<rect x="568.20" y="442.20" width="7.70" height="0.80" fill="#A058C0"/>
<rect x="568.20" y="443.00" width="7.70" height="1.00" fill="#3E8F80"/>
<rect x="568.20" y="444.00" width="7.70" height="1.60" fill="#6E7C9C"/>
<rect x="568.20" y="445.60" width="7.70" height="0.60" fill="#A058C0"/>
<rect x="568.20" y="446.20" width="7.70" height="0.80" fill="#9A3040"/>
<rect x="568.20" y="447.00" width="7.70" height="1.00" fill="#3E8F80"/>
<rect x="568.20" y="448.00" width="7.70" height="1.60" fill="#6E7C9C"/>
<rect x="568.20" y="449.60" width="7.70" height="1.60" fill="#6E7C9C"/>
<rect x="568.20" y="451.20" width="7.70" height="0.60" fill="#3E8F80"/>
<rect x="568.20" y="451.80" width="7.70" height="1.00" fill="#A058C0"/>
<rect x="568.20" y="452.80" width="7.70" height="0.60" fill="#6E7C9C"/>
<rect x="568.20" y="453.40" width="7.70" height="1.60" fill="#6E7C9C"/>
<rect x="568.20" y="455.00" width="7.70" height="1.20" fill="#6E7C9C"/>
<rect x="568.20" y="456.20" width="7.70" height="1.00" fill="#A058C0"/>
<rect x="568.20" y="457.20" width="7.70" height="0.80" fill="#6E7C9C"/>
<rect x="568.20" y="458.00" width="7.70" height="0.60" fill="#9A3040"/>
<rect x="568.20" y="458.60" width="7.70" height="1.60" fill="#A058C0"/>
<rect x="568.20" y="460.20" width="7.70" height="0.60" fill="#6E7C9C"/>
<rect x="568.20" y="460.80" width="7.70" height="1.00" fill="#A058C0"/>
<rect x="568.20" y="461.80" width="7.70" height="0.60" fill="#3E8F80"/>
<rect x="568.20" y="462.40" width="7.70" height="0.60" fill="#9A3040"/>
<rect x="568.20" y="463.00" width="7.70" height="0.60" fill="#3E8F80"/>
<rect x="568.20" y="463.60" width="7.70" height="1.60" fill="#6E7C9C"/>
<rect x="568.20" y="465.20" width="7.70" height="1.60" fill="#9A3040"/>
<rect x="568.20" y="466.80" width="7.70" height="1.20" fill="#8A6AA8"/>
<rect x="568.20" y="468.00" width="7.70" height="0.60" fill="#8A6AA8"/>
<rect x="568.20" y="468.60" width="7.70" height="0.60" fill="#6E7C9C"/>
<rect x="568.20" y="469.20" width="7.70" height="0.60" fill="#6E7C9C"/>
<rect x="568.20" y="469.80" width="7.70" height="1.00" fill="#9A3040"/>
<rect x="568.20" y="470.80" width="7.70" height="1.00" fill="#9A3040"/>
<rect x="568.20" y="471.80" width="7.70" height="1.60" fill="#9A3040"/>
<rect x="568.20" y="473.40" width="7.70" height="1.20" fill="#9A3040"/>
<rect x="568.20" y="474.60" width="7.70" height="1.60" fill="#6E7C9C"/>
<rect x="568.20" y="476.20" width="7.70" height="1.60" fill="#3E8F80"/>
<rect x="568.20" y="477.80" width="7.70" height="0.60" fill="#A058C0"/>
<rect x="568.20" y="478.40" width="7.70" height="1.60" fill="#6E7C9C"/>
<rect x="568.20" y="480.00" width="7.70" height="1.20" fill="#6E7C9C"/>
<rect x="568.20" y="481.20" width="7.70" height="0.80" fill="#6E7C9C"/>
<rect x="568.20" y="482.00" width="7.70" height="1.20" fill="#8A6AA8"/>
<rect x="568.20" y="483.20" width="7.70" height="1.20" fill="#A058C0"/>
<rect x="568.20" y="484.40" width="7.70" height="0.60" fill="#A058C0"/>
<rect x="568.20" y="485.00" width="7.70" height="1.00" fill="#6E7C9C"/>
<rect x="568.20" y="486.00" width="7.70" height="1.60" fill="#6E7C9C"/>
<rect x="568.20" y="487.60" width="7.70" height="1.60" fill="#6E7C9C"/>
<rect x="568.20" y="489.20" width="7.70" height="1.00" fill="#9A3040"/>
<rect x="568.20" y="490.20" width="7.70" height="1.20" fill="#6E7C9C"/>
<rect x="568.20" y="491.40" width="7.70" height="1.00" fill="#9A3040"/>
<rect x="568.20" y="492.40" width="7.70" height="1.00" fill="#6E7C9C"/>
<rect x="568.20" y="493.40" width="7.70" height="1.20" fill="#6E7C9C"/>
<rect x="568.20" y="494.60" width="7.70" height="0.80" fill="#9A3040"/>
<rect x="568.20" y="495.40" width="7.70" height="0.80" fill="#8A6AA8"/>
<rect x="568.20" y="496.20" width="7.70" height="1.00" fill="#6E7C9C"/>
<rect x="568.20" y="497.20" width="7.70" height="0.80" fill="#6E7C9C"/>
<rect x="568.20" y="498.00" width="7.70" height="1.20" fill="#A058C0"/>
<rect x="568.20" y="499.20" width="7.70" height="0.60" fill="#6E7C9C"/>
<rect x="568.20" y="499.80" width="7.70" height="1.00" fill="#6E7C9C"/>
<rect x="568.20" y="500.80" width="7.70" height="0.60" fill="#9A3040"/>
<rect x="568.20" y="501.40" width="7.70" height="1.20" fill="#A058C0"/>
<rect x="568.20" y="502.60" width="7.70" height="0.80" fill="#9A3040"/>
<rect x="568.20" y="503.40" width="7.70" height="1.20" fill="#3E8F80"/>
<rect x="568.20" y="504.60" width="7.70" height="1.20" fill="#A058C0"/>
<rect x="568.20" y="505.80" width="7.70" height="1.60" fill="#9A3040"/>
<rect x="568.20" y="507.40" width="7.70" height="1.00" fill="#6E7C9C"/>
<rect x="568.20" y="508.40" width="7.70" height="0.60" fill="#A058C0"/>
<rect x="568.20" y="509.00" width="7.70" height="1.60" fill="#6E7C9C"/>
<rect x="568.20" y="510.60" width="7.70" height="1.00" fill="#8A6AA8"/>
<rect x="568.20" y="511.60" width="7.70" height="1.00" fill="#A058C0"/>
<rect x="568.20" y="512.60" width="7.70" height="1.60" fill="#6E7C9C"/>
<rect x="568.20" y="514.20" width="7.70" height="0.80" fill="#9A3040"/>
<rect x="568.20" y="515.00" width="7.70" height="1.20" fill="#6E7C9C"/>
<rect x="568.20" y="516.20" width="7.70" height="0.60" fill="#A058C0"/>
<rect x="568.20" y="516.80" width="7.70" height="0.80" fill="#6E7C9C"/>
<rect x="568.20" y="517.60" width="7.70" height="0.60" fill="#6E7C9C"/>
<rect x="568.20" y="518.20" width="7.70" height="1.20" fill="#6E7C9C"/>
<rect x="568.20" y="519.40" width="7.70" height="1.60" fill="#A058C0"/>
<rect x="568.20" y="521.00" width="7.70" height="0.60" fill="#6E7C9C"/>
<rect x="568.20" y="521.60" width="7.70" height="0.80" fill="#3E8F80"/>
<rect x="568.20" y="522.40" width="7.70" height="1.00" fill="#6E7C9C"/>
<rect x="568.20" y="523.40" width="7.70" height="0.60" fill="#3E8F80"/>
<rect x="568.20" y="524.00" width="7.70" height="1.60" fill="#6E7C9C"/>
<rect x="568.20" y="525.60" width="7.70" height="0.80" fill="#6E7C9C"/>
<rect x="568.20" y="526.40" width="7.70" height="1.00" fill="#A058C0"/>
<rect x="568.20" y="527.40" width="7.70" height="1.60" fill="#3E8F80"/>
<rect x="568.20" y="529.00" width="7.70" height="1.60" fill="#8A6AA8"/>
<rect x="568.20" y="530.60" width="7.70" height="0.80" fill="#9A3040"/>
<rect x="568.20" y="531.40" width="7.70" height="0.80" fill="#6E7C9C"/>
<rect x="568.20" y="532.20" width="7.70" height="1.20" fill="#9A3040"/>
<rect x="568.20" y="533.40" width="7.70" height="0.80" fill="#9A3040"/>
<rect x="568.20" y="534.20" width="7.70" height="1.20" fill="#6E7C9C"/>
<rect x="568.20" y="535.40" width="7.70" height="0.60" fill="#9A3040"/>
<rect x="568.20" y="536.00" width="7.70" height="1.60" fill="#8A6AA8"/>
<rect x="568.20" y="537.60" width="7.70" height="1.60" fill="#A058C0"/>
<rect x="568.20" y="539.20" width="7.70" height="1.20" fill="#A058C0"/>
<rect x="568.20" y="540.40" width="7.70" height="0.80" fill="#6E7C9C"/>
<rect x="568.20" y="541.20" width="7.70" height="0.60" fill="#6E7C9C"/>
<rect x="568.20" y="541.80" width="7.70" height="0.80" fill="#9A3040"/>
<rect x="568.20" y="542.60" width="7.70" height="0.60" fill="#A058C0"/>
<rect x="568.20" y="543.20" width="7.70" height="1.60" fill="#A058C0"/>
<rect x="568.20" y="386.00" width="7.70" height="6.00" fill="#9460B4"/>
<rect x="568.20" y="392.00" width="7.70" height="2.80" fill="#4A8F7B"/>
<rect x="568.20" y="395.00" width="7.70" height="3.40" fill="#8B2223"/>
<rect x="568.20" y="398.40" width="7.70" height="0.80" fill="#E8602A"/>
<rect x="568.20" y="399.20" width="7.70" height="0.80" fill="#C03030"/>
<rect x="568.20" y="402.00" width="7.70" height="1.00" fill="#3AB4E8"/>
<rect x="568.20" y="403.00" width="7.70" height="1.00" fill="#6A78C8"/>
<rect x="568.20" y="404.20" width="7.70" height="0.80" fill="#9060B0"/>
<rect x="568.20" y="405.60" width="7.70" height="1.40" fill="#8B2223"/>
<rect x="568.20" y="407.00" width="7.70" height="1.40" fill="#D8602A"/>
<rect x="568.20" y="451.00" width="7.70" height="1.00" fill="#A03048"/>
<rect x="568.20" y="456.00" width="7.70" height="1.00" fill="#4A8F7B"/>
<rect x="568.20" y="474.50" width="7.70" height="1.50" fill="#A03048"/>
<rect x="568.20" y="477.00" width="7.70" height="1.00" fill="#8B2223"/>
<rect x="568.20" y="505.80" width="7.70" height="15.90" fill="#9460B4"/>
<rect x="568.20" y="506.30" width="7.70" height="0.70" fill="#8B2223"/>
<rect x="568.20" y="521.70" width="7.70" height="4.10" fill="#44917E"/>
<rect x="568.20" y="525.80" width="7.70" height="5.00" fill="#8B2223"/>
<rect x="568.20" y="530.80" width="7.70" height="1.60" fill="#C03048"/>
<rect x="568.20" y="532.40" width="7.70" height="1.60" fill="#9460B4"/>
<rect x="568.20" y="534.00" width="7.70" height="1.00" fill="#A03048"/>
<rect x="568.20" y="544.00" width="7.70" height="3.40" fill="#9460B4"/>
<rect x="568.20" y="545.50" width="7.70" height="0.70" fill="#A03048"/>
<rect x="568.20" y="547.40" width="7.70" height="3.40" fill="#F07F22"/>
<rect x="568.20" y="550.80" width="7.70" height="0.80" fill="#8B2223"/>
<rect x="568.20" y="551.60" width="7.70" height="1.70" fill="#9460B4"/>
<rect x="568.20" y="553.30" width="7.70" height="4.30" fill="#F07F22"/>
<rect x="568.20" y="555.00" width="7.70" height="0.50" fill="#C86030"/>
<rect x="568.20" y="557.60" width="7.70" height="1.90" fill="#9460B4"/>
<rect x="568.20" y="559.50" width="7.70" height="2.10" fill="#8B2223"/>
<rect x="568.20" y="561.60" width="7.70" height="1.20" fill="#9460B4"/>
<rect x="568.20" y="562.80" width="7.70" height="1.60" fill="#3A9AA8"/>
<rect x="568.20" y="345.40" width="0.90" height="219.00" fill="#4a4a50"/>
<rect x="574.20" y="345.40" width="1.70" height="219.00" fill="#8A8A8A"/>
<line x1="568.20" y1="345.60" x2="575.50" y2="345.60" stroke="#111" stroke-width="0.9"/>
<line x1="568.20" y1="564.40" x2="575.90" y2="564.40" stroke="#222" stroke-width="0.8"/>
<defs><linearGradient id="cb" x1="0" y1="0" x2="0" y2="1"><stop offset="0" stop-color="#E5262A"/><stop offset="0.03" stop-color="#E8302A"/><stop offset="0.18" stop-color="#F7941D"/><stop offset="0.355" stop-color="#FFF200"/><stop offset="0.49" stop-color="#8CC63F"/><stop offset="0.635" stop-color="#1FA049"/><stop offset="0.705" stop-color="#2456A4"/><stop offset="0.84" stop-color="#4A52A8"/><stop offset="0.93" stop-color="#C4C4E4"/><stop offset="0.985" stop-color="#fff"/><stop offset="1" stop-color="#fff"/></linearGradient></defs>
<rect x="805.70" y="427.30" width="8.60" height="89.60" fill="url(#cb)" stroke="#222" stroke-width="0.7"/>
<text x="818" y="434.1" font-size="10">1,000+</text>
<text x="818" y="450.8" font-size="10">800</text>
<text x="818" y="467.8" font-size="10">600</text>
<text x="818" y="484.5" font-size="10">400</text>
<text x="818" y="501.7" font-size="10">200</text>
<text x="818" y="518.3" font-size="10">0</text>
<text x="798.1" y="391" font-size="11.5">MetaBGC</text>
<text x="798.1" y="405.3" font-size="11.5">abundance</text>
<text x="798.1" y="419.1" font-size="11.5">(reads)</text>
<text transform="translate(530.9 606.4) rotate(-90)" font-size="11.5" text-anchor="middle" stroke="#000" stroke-width="0.3">Prevalence</text>
<text transform="translate(545.6 606.2) rotate(-90)" font-size="11.5" text-anchor="middle" stroke="#000" stroke-width="0.3">(%)</text>
<text x="683.5" y="577.7" font-size="10" text-anchor="middle">Gut (HMP: 301 participants)</text>
<line x1="576.50" y1="579.20" x2="576.50" y2="598.60" stroke="#777" stroke-width="1.3"/>
<line x1="572.60" y1="579.60" x2="577.00" y2="579.60" stroke="#777" stroke-width="1.0"/>
<text x="570.6" y="583.2" font-size="10" text-anchor="end">10</text>
<line x1="572.60" y1="588.90" x2="577.00" y2="588.90" stroke="#777" stroke-width="1.0"/>
<text x="570.6" y="592.5" font-size="10" text-anchor="end">5</text>
<line x1="572.60" y1="598.10" x2="577.00" y2="598.10" stroke="#777" stroke-width="1.0"/>
<text x="570.6" y="601.7" font-size="10" text-anchor="end">0</text>
<rect x="580.60" y="594.60" width="13.70" height="3.50" fill="#B8862B" stroke="#222" stroke-width="0.9"/>
<rect x="596.10" y="593.40" width="13.70" height="4.70" fill="#B8862B" stroke="#222" stroke-width="0.9"/>
<rect x="656.70" y="596.50" width="13.60" height="1.70" fill="#1a1a1a"/>
<rect x="671.60" y="596.50" width="13.60" height="1.70" fill="#1a1a1a"/>
<rect x="685.70" y="583.10" width="13.70" height="15.00" fill="#B8862B" stroke="#222" stroke-width="0.9"/>
<rect x="731.40" y="596.50" width="13.60" height="1.70" fill="#1a1a1a"/>
<rect x="747.40" y="596.50" width="13.60" height="1.70" fill="#1a1a1a"/>
<line x1="572.60" y1="598.20" x2="791.50" y2="598.20" stroke="#555" stroke-width="1.2"/>
<text x="682.3" y="609.5" font-size="10" text-anchor="middle">Oral (HMP: 264 participants)</text>
<line x1="576.50" y1="608.50" x2="576.50" y2="636.50" stroke="#777" stroke-width="1.3"/>
<line x1="572.60" y1="608.90" x2="577.00" y2="608.90" stroke="#777" stroke-width="1.0"/>
<text x="570.6" y="612.5" font-size="10" text-anchor="end">100</text>
<line x1="572.60" y1="622.70" x2="577.00" y2="622.70" stroke="#777" stroke-width="1.0"/>
<text x="570.6" y="626.3" font-size="10" text-anchor="end">50</text>
<line x1="572.60" y1="636.00" x2="577.00" y2="636.00" stroke="#777" stroke-width="1.0"/>
<text x="570.6" y="639.6" font-size="10" text-anchor="end">0</text>
<rect x="580.60" y="615.90" width="13.60" height="20.10" fill="#3CC1C8" stroke="#222" stroke-width="0.9"/>
<rect x="596.10" y="620.70" width="13.60" height="15.30" fill="#3CC1C8" stroke="#222" stroke-width="0.9"/>
<rect x="611.60" y="623.50" width="13.60" height="12.50" fill="#3CC1C8" stroke="#222" stroke-width="0.9"/>
<rect x="626.70" y="632.20" width="13.60" height="3.80" fill="#3CC1C8" stroke="#222" stroke-width="0.9"/>
<rect x="641.70" y="633.50" width="13.60" height="2.50" fill="#3CC1C8" stroke="#222" stroke-width="0.9"/>
<rect x="656.70" y="631.60" width="13.60" height="4.40" fill="#3CC1C8" stroke="#222" stroke-width="0.9"/>
<rect x="671.60" y="623.20" width="13.60" height="12.80" fill="#3CC1C8" stroke="#222" stroke-width="0.9"/>
<rect x="700.90" y="629.50" width="13.60" height="6.50" fill="#3CC1C8" stroke="#222" stroke-width="0.9"/>
<rect x="716.30" y="627.20" width="13.60" height="8.80" fill="#3CC1C8" stroke="#222" stroke-width="0.9"/>
<rect x="731.40" y="626.50" width="13.60" height="9.50" fill="#3CC1C8" stroke="#222" stroke-width="0.9"/>
<rect x="747.40" y="629.50" width="13.60" height="6.50" fill="#3CC1C8" stroke="#222" stroke-width="0.9"/>
<rect x="762.80" y="634.00" width="13.60" height="2.00" fill="#3CC1C8" stroke="#222" stroke-width="0.9"/>
<rect x="778.30" y="633.70" width="13.60" height="2.30" fill="#3CC1C8" stroke="#222" stroke-width="0.9"/>
<line x1="572.60" y1="636.10" x2="794.00" y2="636.10" stroke="#555" stroke-width="1.2"/>
</g>
</svg></body></html>
